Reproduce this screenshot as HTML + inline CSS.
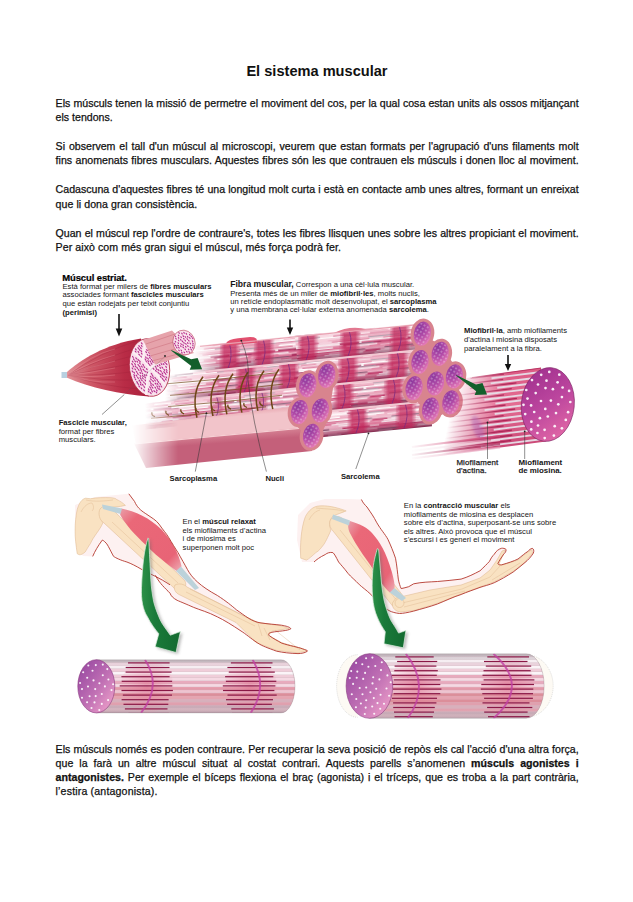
<!DOCTYPE html>
<html><head><meta charset="utf-8">
<style>
html,body{margin:0;padding:0;background:#fff;}
body{width:633px;height:902px;position:relative;overflow:hidden;font-family:"Liberation Sans",sans-serif;color:#111;}
.t{position:absolute;left:246.4px;top:0;font-weight:bold;font-size:14.6px;white-space:nowrap;}
.p{position:absolute;left:55.6px;width:523px;font-size:10.6px;line-height:14.15px;-webkit-text-stroke:0.25px #111;}
.l{display:block;white-space:nowrap;height:14.15px;}
.j{text-align:justify;text-align-last:justify;}
svg{position:absolute;left:0;top:0;}
</style></head><body>
<div class="t" id="title" style="top:62.5px;line-height:16px">El sistema muscular</div>
<div class="p" id="p1" style="top:96.05px"><span class="l j">Els músculs tenen la missió de permetre el moviment del cos, per la qual cosa estan units als ossos mitjançant</span><span class="l">els tendons.</span></div>
<div class="p" id="p2" style="top:139.25px"><span class="l j">Si observem el tall d'un múscul al microscopi, veurem que estan formats per l'agrupació d'uns filaments molt</span><span class="l j">fins anomenats fibres musculars. Aquestes fibres són les que contrauen els músculs i donen lloc al moviment.</span></div>
<div class="p" id="p3" style="top:182.45px"><span class="l j">Cadascuna d'aquestes fibres té una longitud molt curta i està en contacte amb unes altres, formant un enreixat</span><span class="l" style="letter-spacing:0.05px">que li dona gran consistència.</span></div>
<div class="p" id="p4" style="top:226.05px"><span class="l j">Quan el múscul rep l'ordre de contraure's, totes les fibres llisquen unes sobre les altres propiciant el moviment.</span><span class="l" style="letter-spacing:0.066px">Per això com més gran sigui el múscul, més força podrà fer.</span></div>
<div class="p" id="p5" style="top:741.85px"><span class="l j">Els músculs només es poden contraure. Per recuperar la seva posició de repòs els cal l'acció d'una altra força,</span><span class="l j">que la farà un altre múscul situat al costat contrari. Aquests parells s’anomenen <b>músculs agonistes i</b></span><span class="l j"><b>antagonistes.</b> Per exemple el bíceps flexiona el braç (agonista) i el tríceps, que es troba a la part contrària,</span><span class="l" style="letter-spacing:0.16px">l’estira (antagonista).</span></div>
<svg id="ill" width="633" height="902" viewBox="0 0 633 902">
<defs>
<linearGradient id="mgrad" gradientUnits="userSpaceOnUse" x1="64" y1="0" x2="150" y2="0">
<stop offset="0" stop-color="#e49a9e"/><stop offset="0.3" stop-color="#cf5a68"/><stop offset="0.7" stop-color="#b92c46"/><stop offset="1" stop-color="#a8203c"/>
</linearGradient>
<pattern id="dots1" width="3.4" height="3.2" patternUnits="userSpaceOnUse" patternTransform="rotate(35)">
<ellipse cx="1.7" cy="1.6" rx="1.15" ry="0.72" fill="#b82a82"/>
</pattern>
<pattern id="wdots" width="3.7" height="3.7" patternUnits="userSpaceOnUse" patternTransform="rotate(20)">
<circle cx="1.85" cy="1.85" r="0.62" fill="#fff" fill-opacity="0.75"/>
</pattern>
<pattern id="wdots2" width="8" height="8" patternUnits="userSpaceOnUse" patternTransform="rotate(20)">
<circle cx="2" cy="2" r="1.05" fill="#fff" fill-opacity="0.9"/>
<circle cx="6" cy="6" r="1.05" fill="#fff" fill-opacity="0.9"/>
</pattern>
<pattern id="wdots3" width="10" height="10" patternUnits="userSpaceOnUse" patternTransform="rotate(25)">
<circle cx="2.5" cy="2.5" r="1.1" fill="#fff" fill-opacity="0.9"/>
<circle cx="7.5" cy="7.5" r="1.1" fill="#fff" fill-opacity="0.9"/>
</pattern>
<radialGradient id="purp" cx="0.3" cy="0.25" r="0.85">
<stop offset="0" stop-color="#8e3a9e"/><stop offset="0.5" stop-color="#b44ca8"/><stop offset="1" stop-color="#ea80b8"/>
</radialGradient>
<linearGradient id="purpB" x1="0.2" y1="0" x2="0.8" y2="1">
<stop offset="0" stop-color="#a0308e"/><stop offset="0.5" stop-color="#bc469e"/><stop offset="1" stop-color="#e46aa6"/>
</linearGradient>
<linearGradient id="purpC" x1="0.1" y1="0.1" x2="0.9" y2="0.9">
<stop offset="0" stop-color="#9a4aa2"/><stop offset="0.55" stop-color="#c070b4"/><stop offset="1" stop-color="#eb9cc8"/>
</linearGradient>
<linearGradient id="fadeL" gradientUnits="userSpaceOnUse" x1="150" y1="0" x2="218" y2="0">
<stop offset="0" stop-color="#fff" stop-opacity="0"/><stop offset="1" stop-color="#fff" stop-opacity="1"/>
</linearGradient>
<mask id="mfade" maskUnits="userSpaceOnUse" x="0" y="0" width="633" height="902"><rect x="0" y="0" width="633" height="902" fill="url(#fadeL)"/></mask>
<linearGradient id="fadeP" gradientUnits="userSpaceOnUse" x1="132" y1="0" x2="178" y2="0">
<stop offset="0" stop-color="#fff" stop-opacity="0"/><stop offset="1" stop-color="#fff" stop-opacity="1"/>
</linearGradient>
<mask id="mfadeP" maskUnits="userSpaceOnUse" x="0" y="0" width="633" height="902"><rect x="0" y="0" width="633" height="902" fill="url(#fadeP)"/></mask>
<linearGradient id="fadeR" gradientUnits="userSpaceOnUse" x1="440" y1="0" x2="505" y2="0">
<stop offset="0" stop-color="#fff" stop-opacity="0"/><stop offset="1" stop-color="#fff" stop-opacity="1"/>
</linearGradient>
<mask id="mfadeR" maskUnits="userSpaceOnUse" x="0" y="0" width="633" height="902"><rect x="0" y="0" width="633" height="902" fill="url(#fadeR)"/></mask>
<linearGradient id="pkA" gradientUnits="userSpaceOnUse" x1="0" y1="412" x2="2" y2="436">
<stop offset="0" stop-color="#ecacb4"/><stop offset="0.55" stop-color="#e0909c"/><stop offset="1" stop-color="#f2c4ca"/>
</linearGradient>
<linearGradient id="pkB" gradientUnits="userSpaceOnUse" x1="0" y1="434" x2="2" y2="460">
<stop offset="0" stop-color="#f2c0c6"/><stop offset="0.4" stop-color="#e29aa6"/><stop offset="1" stop-color="#c4607a"/>
</linearGradient>
<linearGradient id="grn" x1="0" y1="0" x2="1" y2="1">
<stop offset="0" stop-color="#1f7a3a"/><stop offset="1" stop-color="#0e5a28"/>
</linearGradient>
<linearGradient id="bic" x1="0" y1="0" x2="1" y2="1">
<stop offset="0" stop-color="#e9a0aa"/><stop offset="0.2" stop-color="#ea6878"/><stop offset="0.8" stop-color="#e86476"/><stop offset="1" stop-color="#eeb0b8"/>
</linearGradient>
<linearGradient id="grnC" x1="0" y1="0" x2="1" y2="0"><stop offset="0" stop-color="#2c9048"/><stop offset="0.35" stop-color="#1a7a3a"/><stop offset="1" stop-color="#136a30"/></linearGradient>
<filter id="blur1" x="-20%" y="-20%" width="140%" height="140%"><feGaussianBlur stdDeviation="0.6"/></filter>
<filter id="blur2" x="-20%" y="-20%" width="140%" height="140%"><feGaussianBlur stdDeviation="1.5"/></filter>

<pattern id="streak" width="130" height="23.20" patternUnits="userSpaceOnUse" patternTransform="rotate(-5.7)"><rect width="130" height="23.20" fill="#e0809e"/><rect x="0" y="0.00" width="130" height="1.47" fill="#e88aa8"/><rect x="4.2" y="0.00" width="28.2" height="1.47" fill="#f0b0c4"/><rect x="40.1" y="0.00" width="21.3" height="1.47" fill="#e27a9c"/><rect x="73.2" y="0.00" width="31.4" height="1.47" fill="#8a6a80"/><rect x="112.9" y="0.00" width="17.1" height="1.47" fill="#ffffff"/><rect x="0" y="1.45" width="130" height="1.47" fill="#f4c4d4"/><rect x="4.3" y="1.45" width="18.9" height="1.47" fill="#c84070"/><rect x="36.3" y="1.45" width="37.6" height="1.47" fill="#d45c84"/><rect x="87.8" y="1.45" width="39.1" height="1.47" fill="#d45c84"/><rect x="0" y="2.90" width="130" height="1.47" fill="#ffffff"/><rect x="9.6" y="2.90" width="32.4" height="1.47" fill="#f7d0dc"/><rect x="51.7" y="2.90" width="45.9" height="1.47" fill="#ffffff"/><rect x="101.5" y="2.90" width="28.5" height="1.47" fill="#f7d0dc"/><rect x="0" y="4.35" width="130" height="1.47" fill="#ffffff"/><rect x="4.5" y="4.35" width="32.8" height="1.47" fill="#ffffff"/><rect x="44.1" y="4.35" width="19.1" height="1.47" fill="#a02454"/><rect x="65.7" y="4.35" width="43.4" height="1.47" fill="#c84070"/><rect x="112.0" y="4.35" width="18.0" height="1.47" fill="#a02454"/><rect x="0" y="5.80" width="130" height="1.47" fill="#a02454"/><rect x="7.5" y="5.80" width="39.9" height="1.47" fill="#f4c4d4"/><rect x="61.3" y="5.80" width="16.4" height="1.47" fill="#8a6a80"/><rect x="85.5" y="5.80" width="42.1" height="1.47" fill="#c84070"/><rect x="0" y="7.25" width="130" height="1.47" fill="#e88aa8"/><rect x="8.9" y="7.25" width="27.9" height="1.47" fill="#ffffff"/><rect x="50.3" y="7.25" width="31.0" height="1.47" fill="#ffffff"/><rect x="95.2" y="7.25" width="27.1" height="1.47" fill="#ffffff"/><rect x="0" y="8.70" width="130" height="1.47" fill="#e88aa8"/><rect x="7.2" y="8.70" width="47.8" height="1.47" fill="#e27a9c"/><rect x="57.0" y="8.70" width="16.4" height="1.47" fill="#f4c4d4"/><rect x="84.3" y="8.70" width="21.5" height="1.47" fill="#f4c4d4"/><rect x="111.7" y="8.70" width="18.3" height="1.47" fill="#f7d0dc"/><rect x="0" y="10.15" width="130" height="1.47" fill="#e88aa8"/><rect x="6.3" y="10.15" width="42.3" height="1.47" fill="#ffffff"/><rect x="54.8" y="10.15" width="34.3" height="1.47" fill="#f0b0c4"/><rect x="94.0" y="10.15" width="19.7" height="1.47" fill="#e88aa8"/><rect x="125.1" y="10.15" width="4.9" height="1.47" fill="#a02454"/><rect x="0" y="11.60" width="130" height="1.47" fill="#8a6a80"/><rect x="9.0" y="11.60" width="46.6" height="1.47" fill="#d45c84"/><rect x="68.6" y="11.60" width="19.5" height="1.47" fill="#f4c4d4"/><rect x="90.3" y="11.60" width="25.8" height="1.47" fill="#8a6a80"/><rect x="122.6" y="11.60" width="7.4" height="1.47" fill="#c84070"/><rect x="0" y="13.05" width="130" height="1.47" fill="#f7d0dc"/><rect x="4.4" y="13.05" width="27.9" height="1.47" fill="#e27a9c"/><rect x="34.9" y="13.05" width="23.8" height="1.47" fill="#f0b0c4"/><rect x="68.6" y="13.05" width="15.2" height="1.47" fill="#c84070"/><rect x="87.9" y="13.05" width="16.4" height="1.47" fill="#ffffff"/><rect x="114.0" y="13.05" width="16.0" height="1.47" fill="#e88aa8"/><rect x="0" y="14.50" width="130" height="1.47" fill="#e27a9c"/><rect x="0.5" y="14.50" width="18.7" height="1.47" fill="#a02454"/><rect x="27.5" y="14.50" width="38.8" height="1.47" fill="#ffffff"/><rect x="79.8" y="14.50" width="44.6" height="1.47" fill="#ffffff"/><rect x="0" y="15.95" width="130" height="1.47" fill="#ffffff"/><rect x="6.0" y="15.95" width="28.5" height="1.47" fill="#f4c4d4"/><rect x="47.3" y="15.95" width="30.2" height="1.47" fill="#e88aa8"/><rect x="86.0" y="15.95" width="23.4" height="1.47" fill="#ffffff"/><rect x="115.9" y="15.95" width="14.1" height="1.47" fill="#ffffff"/><rect x="0" y="17.40" width="130" height="1.47" fill="#ffffff"/><rect x="6.4" y="17.40" width="43.0" height="1.47" fill="#f4c4d4"/><rect x="56.4" y="17.40" width="37.2" height="1.47" fill="#e88aa8"/><rect x="97.3" y="17.40" width="17.2" height="1.47" fill="#f7d0dc"/><rect x="118.7" y="17.40" width="11.3" height="1.47" fill="#e88aa8"/><rect x="0" y="18.85" width="130" height="1.47" fill="#f7d0dc"/><rect x="6.6" y="18.85" width="18.3" height="1.47" fill="#8a6a80"/><rect x="38.2" y="18.85" width="27.5" height="1.47" fill="#c84070"/><rect x="75.1" y="18.85" width="20.2" height="1.47" fill="#d45c84"/><rect x="99.7" y="18.85" width="30.3" height="1.47" fill="#ffffff"/><rect x="0" y="20.30" width="130" height="1.47" fill="#8a6a80"/><rect x="8.7" y="20.30" width="40.3" height="1.47" fill="#ffffff"/><rect x="55.7" y="20.30" width="43.4" height="1.47" fill="#d45c84"/><rect x="110.3" y="20.30" width="19.7" height="1.47" fill="#c84070"/><rect x="0" y="21.75" width="130" height="1.47" fill="#f4c4d4"/><rect x="3.1" y="21.75" width="15.4" height="1.47" fill="#d45c84"/><rect x="22.4" y="21.75" width="38.7" height="1.47" fill="#f0b0c4"/><rect x="72.9" y="21.75" width="41.3" height="1.47" fill="#e27a9c"/><rect x="127.6" y="21.75" width="2.4" height="1.47" fill="#f4c4d4"/></pattern>
<linearGradient id="fadeR2" gradientUnits="userSpaceOnUse" x1="408" y1="0" x2="470" y2="0">
<stop offset="0" stop-color="#fff" stop-opacity="0"/><stop offset="1" stop-color="#fff" stop-opacity="1"/>
</linearGradient>
<mask id="mfadeR2" maskUnits="userSpaceOnUse" x="0" y="0" width="633" height="902"><rect x="0" y="0" width="633" height="902" fill="url(#fadeR2)"/></mask>
<linearGradient id="tf0" gradientUnits="userSpaceOnUse" x1="192" y1="0" x2="228" y2="0"><stop offset="0" stop-color="#fff" stop-opacity="0"/><stop offset="1" stop-color="#fff" stop-opacity="1"/></linearGradient><mask id="mtf0" maskUnits="userSpaceOnUse" x="0" y="0" width="633" height="902"><rect x="0" y="0" width="633" height="902" fill="url(#tf0)"/></mask>
<linearGradient id="tf1" gradientUnits="userSpaceOnUse" x1="165" y1="0" x2="212" y2="0"><stop offset="0" stop-color="#fff" stop-opacity="0"/><stop offset="1" stop-color="#fff" stop-opacity="1"/></linearGradient><mask id="mtf1" maskUnits="userSpaceOnUse" x="0" y="0" width="633" height="902"><rect x="0" y="0" width="633" height="902" fill="url(#tf1)"/></mask>
<linearGradient id="tf2" gradientUnits="userSpaceOnUse" x1="145" y1="0" x2="195" y2="0"><stop offset="0" stop-color="#fff" stop-opacity="0"/><stop offset="1" stop-color="#fff" stop-opacity="1"/></linearGradient><mask id="mtf2" maskUnits="userSpaceOnUse" x="0" y="0" width="633" height="902"><rect x="0" y="0" width="633" height="902" fill="url(#tf2)"/></mask>
<linearGradient id="tf3" gradientUnits="userSpaceOnUse" x1="0" y1="0" x2="1" y2="0"><stop offset="0" stop-color="#fff" stop-opacity="0"/><stop offset="1" stop-color="#fff" stop-opacity="1"/></linearGradient><mask id="mtf3" maskUnits="userSpaceOnUse" x="0" y="0" width="633" height="902"><rect x="0" y="0" width="633" height="902" fill="url(#tf3)"/></mask>
<linearGradient id="tsh0" gradientUnits="userSpaceOnUse" x1="300" y1="335.4" x2="302.6" y2="361.9"><stop offset="0" stop-color="#fbe4ea" stop-opacity="0.55"/><stop offset="0.35" stop-color="#fff" stop-opacity="0.35"/><stop offset="0.65" stop-color="#b03060" stop-opacity="0.15"/><stop offset="1" stop-color="#5a1838" stop-opacity="0.7"/></linearGradient>
<linearGradient id="tsh1" gradientUnits="userSpaceOnUse" x1="300" y1="361.9" x2="302.6" y2="387.9"><stop offset="0" stop-color="#fbe4ea" stop-opacity="0.55"/><stop offset="0.35" stop-color="#fff" stop-opacity="0.35"/><stop offset="0.65" stop-color="#b03060" stop-opacity="0.15"/><stop offset="1" stop-color="#5a1838" stop-opacity="0.7"/></linearGradient>
<linearGradient id="tsh2" gradientUnits="userSpaceOnUse" x1="300" y1="387.9" x2="302.6" y2="413.9"><stop offset="0" stop-color="#fbe4ea" stop-opacity="0.55"/><stop offset="0.35" stop-color="#fff" stop-opacity="0.35"/><stop offset="0.65" stop-color="#b03060" stop-opacity="0.15"/><stop offset="1" stop-color="#5a1838" stop-opacity="0.7"/></linearGradient>
<linearGradient id="tsh3" gradientUnits="userSpaceOnUse" x1="300" y1="413.9" x2="302.6" y2="439.4"><stop offset="0" stop-color="#fbe4ea" stop-opacity="0.55"/><stop offset="0.35" stop-color="#fff" stop-opacity="0.35"/><stop offset="0.65" stop-color="#b03060" stop-opacity="0.15"/><stop offset="1" stop-color="#5a1838" stop-opacity="0.7"/></linearGradient>
<linearGradient id="bd2201" gradientUnits="userSpaceOnUse" x1="218.5" y1="0" x2="241" y2="0"><stop offset="0" stop-color="#c02458" stop-opacity="0"/><stop offset="0.25" stop-color="#c02458" stop-opacity="0.72"/><stop offset="0.75" stop-color="#c02458" stop-opacity="0.72"/><stop offset="1" stop-color="#c02458" stop-opacity="0"/></linearGradient>
<linearGradient id="bd2541" gradientUnits="userSpaceOnUse" x1="252.5" y1="0" x2="275" y2="0"><stop offset="0" stop-color="#c02458" stop-opacity="0"/><stop offset="0.25" stop-color="#c02458" stop-opacity="0.72"/><stop offset="0.75" stop-color="#c02458" stop-opacity="0.72"/><stop offset="1" stop-color="#c02458" stop-opacity="0"/></linearGradient>
<linearGradient id="bd2981" gradientUnits="userSpaceOnUse" x1="296.5" y1="0" x2="319" y2="0"><stop offset="0" stop-color="#c02458" stop-opacity="0"/><stop offset="0.25" stop-color="#c02458" stop-opacity="0.72"/><stop offset="0.75" stop-color="#c02458" stop-opacity="0.72"/><stop offset="1" stop-color="#c02458" stop-opacity="0"/></linearGradient>
<linearGradient id="bd3401" gradientUnits="userSpaceOnUse" x1="338.5" y1="0" x2="361" y2="0"><stop offset="0" stop-color="#c02458" stop-opacity="0"/><stop offset="0.25" stop-color="#c02458" stop-opacity="0.72"/><stop offset="0.75" stop-color="#c02458" stop-opacity="0.72"/><stop offset="1" stop-color="#c02458" stop-opacity="0"/></linearGradient>
<linearGradient id="bd3901" gradientUnits="userSpaceOnUse" x1="388.5" y1="0" x2="411" y2="0"><stop offset="0" stop-color="#c02458" stop-opacity="0"/><stop offset="0.25" stop-color="#c02458" stop-opacity="0.72"/><stop offset="0.75" stop-color="#c02458" stop-opacity="0.72"/><stop offset="1" stop-color="#c02458" stop-opacity="0"/></linearGradient>
<linearGradient id="bd23627" gradientUnits="userSpaceOnUse" x1="234.5" y1="0" x2="257" y2="0"><stop offset="0" stop-color="#c02458" stop-opacity="0"/><stop offset="0.25" stop-color="#c02458" stop-opacity="0.72"/><stop offset="0.75" stop-color="#c02458" stop-opacity="0.72"/><stop offset="1" stop-color="#c02458" stop-opacity="0"/></linearGradient>
<linearGradient id="bd27927" gradientUnits="userSpaceOnUse" x1="277.5" y1="0" x2="300" y2="0"><stop offset="0" stop-color="#c02458" stop-opacity="0"/><stop offset="0.25" stop-color="#c02458" stop-opacity="0.72"/><stop offset="0.75" stop-color="#c02458" stop-opacity="0.72"/><stop offset="1" stop-color="#c02458" stop-opacity="0"/></linearGradient>
<linearGradient id="bd33827" gradientUnits="userSpaceOnUse" x1="336.5" y1="0" x2="359" y2="0"><stop offset="0" stop-color="#c02458" stop-opacity="0"/><stop offset="0.25" stop-color="#c02458" stop-opacity="0.72"/><stop offset="0.75" stop-color="#c02458" stop-opacity="0.72"/><stop offset="1" stop-color="#c02458" stop-opacity="0"/></linearGradient>
<linearGradient id="bd38827" gradientUnits="userSpaceOnUse" x1="386.5" y1="0" x2="409" y2="0"><stop offset="0" stop-color="#c02458" stop-opacity="0"/><stop offset="0.25" stop-color="#c02458" stop-opacity="0.72"/><stop offset="0.75" stop-color="#c02458" stop-opacity="0.72"/><stop offset="1" stop-color="#c02458" stop-opacity="0"/></linearGradient>
<linearGradient id="bd33453" gradientUnits="userSpaceOnUse" x1="332.5" y1="0" x2="355" y2="0"><stop offset="0" stop-color="#c02458" stop-opacity="0"/><stop offset="0.25" stop-color="#c02458" stop-opacity="0.72"/><stop offset="0.75" stop-color="#c02458" stop-opacity="0.72"/><stop offset="1" stop-color="#c02458" stop-opacity="0"/></linearGradient>
<linearGradient id="bd38453" gradientUnits="userSpaceOnUse" x1="382.5" y1="0" x2="405" y2="0"><stop offset="0" stop-color="#c02458" stop-opacity="0"/><stop offset="0.25" stop-color="#c02458" stop-opacity="0.72"/><stop offset="0.75" stop-color="#c02458" stop-opacity="0.72"/><stop offset="1" stop-color="#c02458" stop-opacity="0"/></linearGradient>
<linearGradient id="bd34879" gradientUnits="userSpaceOnUse" x1="346.5" y1="0" x2="369" y2="0"><stop offset="0" stop-color="#c02458" stop-opacity="0"/><stop offset="0.25" stop-color="#c02458" stop-opacity="0.72"/><stop offset="0.75" stop-color="#c02458" stop-opacity="0.72"/><stop offset="1" stop-color="#c02458" stop-opacity="0"/></linearGradient>
<linearGradient id="bd39679" gradientUnits="userSpaceOnUse" x1="394.5" y1="0" x2="417" y2="0"><stop offset="0" stop-color="#c02458" stop-opacity="0"/><stop offset="0.25" stop-color="#c02458" stop-opacity="0.72"/><stop offset="0.75" stop-color="#c02458" stop-opacity="0.72"/><stop offset="1" stop-color="#c02458" stop-opacity="0"/></linearGradient>
<linearGradient id="bd21153" gradientUnits="userSpaceOnUse" x1="209.5" y1="0" x2="224" y2="0"><stop offset="0" stop-color="#b52a5c" stop-opacity="0"/><stop offset="0.25" stop-color="#b52a5c" stop-opacity="0.35"/><stop offset="0.75" stop-color="#b52a5c" stop-opacity="0.35"/><stop offset="1" stop-color="#b52a5c" stop-opacity="0"/></linearGradient>
<linearGradient id="bd25653" gradientUnits="userSpaceOnUse" x1="254.5" y1="0" x2="269" y2="0"><stop offset="0" stop-color="#b52a5c" stop-opacity="0"/><stop offset="0.25" stop-color="#b52a5c" stop-opacity="0.35"/><stop offset="0.75" stop-color="#b52a5c" stop-opacity="0.35"/><stop offset="1" stop-color="#b52a5c" stop-opacity="0"/></linearGradient>
<linearGradient id="myoF" gradientUnits="userSpaceOnUse" x1="452" y1="404" x2="500" y2="414"><stop offset="0" stop-color="#fff" stop-opacity="0"/><stop offset="1" stop-color="#fff" stop-opacity="1"/></linearGradient><mask id="mmyo" maskUnits="userSpaceOnUse" x="0" y="0" width="633" height="902"><rect x="0" y="0" width="633" height="902" fill="url(#myoF)"/></mask>
<linearGradient id="myoB" gradientUnits="userSpaceOnUse" x1="540" y1="368" x2="540" y2="442"><stop offset="0" stop-color="#dc5a84"/><stop offset="0.5" stop-color="#e46c92"/><stop offset="1" stop-color="#cc4a78"/></linearGradient>
<clipPath id="clipL"><path d="M96.3,659.6999999999999 L281,659.6999999999999 A14,26.6 0 0 1 281,712.9 L96.3,712.9 Z"/></clipPath>
<linearGradient id="shL" x1="0" y1="0" x2="0" y2="1"><stop offset="0" stop-color="#806070" stop-opacity="0.2"/><stop offset="0.12" stop-color="#fff" stop-opacity="0"/><stop offset="0.85" stop-color="#fff" stop-opacity="0"/><stop offset="1" stop-color="#806070" stop-opacity="0.2"/></linearGradient>
<radialGradient id="bgL120" cx="0.5" cy="0.5" r="0.5"><stop offset="0" stop-color="#e07090" stop-opacity="0.55"/><stop offset="1" stop-color="#e890a8" stop-opacity="0.1"/></radialGradient>
<radialGradient id="bgL224" cx="0.5" cy="0.5" r="0.5"><stop offset="0" stop-color="#e07090" stop-opacity="0.55"/><stop offset="1" stop-color="#e890a8" stop-opacity="0.1"/></radialGradient>
<clipPath id="clipR"><path d="M369.4,653.7 L526.2,653.7 A18,32.3 0 0 1 526.2,718.3 L369.4,718.3 Z"/></clipPath>
<linearGradient id="shR" x1="0" y1="0" x2="0" y2="1"><stop offset="0" stop-color="#806070" stop-opacity="0.2"/><stop offset="0.12" stop-color="#fff" stop-opacity="0"/><stop offset="0.85" stop-color="#fff" stop-opacity="0"/><stop offset="1" stop-color="#806070" stop-opacity="0.2"/></linearGradient>
<radialGradient id="bgR390" cx="0.5" cy="0.5" r="0.5"><stop offset="0" stop-color="#e07090" stop-opacity="0.55"/><stop offset="1" stop-color="#e890a8" stop-opacity="0.1"/></radialGradient>
<radialGradient id="bgR481" cx="0.5" cy="0.5" r="0.5"><stop offset="0" stop-color="#e07090" stop-opacity="0.55"/><stop offset="1" stop-color="#e890a8" stop-opacity="0.1"/></radialGradient></defs>
<g id="bundle">
<g>
<path d="M188,346.6 L418,323.6 L418,350.1 L188,373.1 Z" fill="url(#streak)" mask="url(#mtf0)"/>
<path d="M160,375.9 L420,349.9 L420,375.9 L160,401.9 Z" fill="url(#streak)" mask="url(#mtf1)"/>
<path d="M140,403.9 L418,376.1 L418,402.1 L140,429.9 Z" fill="url(#streak)" mask="url(#mtf2)"/>
<path d="M318,412.1 L432,400.7 L432,426.2 L318,437.6 Z" fill="url(#streak)" mask="url(#mtf3)"/>
<path d="M188,346.6 L418,323.6 L418,350.1 L188,373.1 Z" fill="url(#tsh0)" mask="url(#mtf0)"/>
<path d="M160,375.9 L420,349.9 L420,375.9 L160,401.9 Z" fill="url(#tsh1)" mask="url(#mtf1)"/>
<path d="M140,403.9 L418,376.1 L418,402.1 L140,429.9 Z" fill="url(#tsh2)" mask="url(#mtf2)"/>
<path d="M318,412.1 L432,400.7 L432,426.2 L318,437.6 Z" fill="url(#tsh3)" mask="url(#mtf3)"/>
</g>
<g mask="url(#mfade)"><path d="M220.0,344.4 L241.0,342.3 L239.5,367.3 L218.5,369.4 Z" fill="url(#bd2201)"/><path d="M229.4,343.5 Q233.4,356.0 227.9,368.5" stroke="#7a2a80" stroke-width="0.9" fill="none" stroke-opacity="0.85"/><path d="M254.0,341.0 L275.0,338.9 L273.5,363.9 L252.5,366.0 Z" fill="url(#bd2541)"/><path d="M263.4,340.1 Q267.4,352.6 261.9,365.1" stroke="#7a2a80" stroke-width="0.9" fill="none" stroke-opacity="0.85"/><path d="M298.0,336.6 L319.0,334.5 L317.5,359.5 L296.5,361.6 Z" fill="url(#bd2981)"/><path d="M307.4,335.7 Q311.4,348.2 305.9,360.7" stroke="#7a2a80" stroke-width="0.9" fill="none" stroke-opacity="0.85"/><path d="M340.0,332.4 L361.0,330.3 L359.5,355.3 L338.5,357.4 Z" fill="url(#bd3401)"/><path d="M349.4,331.5 Q353.4,344.0 347.9,356.5" stroke="#7a2a80" stroke-width="0.9" fill="none" stroke-opacity="0.85"/><path d="M390.0,327.4 L411.0,325.3 L409.5,350.3 L388.5,352.4 Z" fill="url(#bd3901)"/><path d="M399.4,326.5 Q403.4,339.0 397.9,351.5" stroke="#7a2a80" stroke-width="0.9" fill="none" stroke-opacity="0.85"/><path d="M236.0,369.3 L257.0,367.2 L255.5,391.7 L234.5,393.8 Z" fill="url(#bd23627)"/><path d="M245.4,368.4 Q249.4,380.6 243.9,392.9" stroke="#7a2a80" stroke-width="0.9" fill="none" stroke-opacity="0.85"/><path d="M279.0,365.0 L300.0,362.9 L298.5,387.4 L277.5,389.5 Z" fill="url(#bd27927)"/><path d="M288.4,364.1 Q292.4,376.3 286.9,388.6" stroke="#7a2a80" stroke-width="0.9" fill="none" stroke-opacity="0.85"/><path d="M338.0,359.1 L359.0,357.0 L357.5,381.5 L336.5,383.6 Z" fill="url(#bd33827)"/><path d="M347.4,358.2 Q351.4,370.4 345.9,382.7" stroke="#7a2a80" stroke-width="0.9" fill="none" stroke-opacity="0.85"/><path d="M388.0,354.1 L409.0,352.0 L407.5,376.5 L386.5,378.6 Z" fill="url(#bd38827)"/><path d="M397.4,353.2 Q401.4,365.4 395.9,377.7" stroke="#7a2a80" stroke-width="0.9" fill="none" stroke-opacity="0.85"/><path d="M334.0,385.5 L355.0,383.4 L353.5,407.9 L332.5,410.0 Z" fill="url(#bd33453)"/><path d="M343.4,384.6 Q347.4,396.8 341.9,409.1" stroke="#7a2a80" stroke-width="0.9" fill="none" stroke-opacity="0.85"/><path d="M384.0,380.5 L405.0,378.4 L403.5,402.9 L382.5,405.0 Z" fill="url(#bd38453)"/><path d="M393.4,379.6 Q397.4,391.8 391.9,404.1" stroke="#7a2a80" stroke-width="0.9" fill="none" stroke-opacity="0.85"/><path d="M348.0,410.1 L369.0,408.0 L367.5,432.0 L346.5,434.1 Z" fill="url(#bd34879)"/><path d="M357.4,409.2 Q361.4,421.2 355.9,433.2" stroke="#7a2a80" stroke-width="0.9" fill="none" stroke-opacity="0.85"/><path d="M396.0,405.3 L417.0,403.2 L415.5,427.2 L394.5,429.3 Z" fill="url(#bd39679)"/><path d="M405.4,404.4 Q409.4,416.4 403.9,428.4" stroke="#7a2a80" stroke-width="0.9" fill="none" stroke-opacity="0.85"/><path d="M211.0,397.8 L224.0,396.5 L222.5,418.0 L209.5,419.3 Z" fill="url(#bd21153)"/><path d="M216.8,397.2 Q220.8,408.0 215.3,418.7" stroke="#7a2a80" stroke-width="0.9" fill="none" stroke-opacity="0.85"/><path d="M256.0,393.3 L269.0,392.0 L267.5,413.5 L254.5,414.8 Z" fill="url(#bd25653)"/><path d="M261.9,392.7 Q265.9,403.5 260.4,414.2" stroke="#7a2a80" stroke-width="0.9" fill="none" stroke-opacity="0.85"/><path d="M205,371.4 L420,349.9" stroke="#f2c8d2" stroke-width="2"/><path d="M176,400.3 L420,375.9" stroke="#f2c8d2" stroke-width="2"/><path d="M320,411.9 L420,401.9" stroke="#f2c8d2" stroke-width="2"/></g>
<path d="M226,343.3 Q228,339.4 238,338.2 L250,337.0 Q257,337.1 257,340.2 L257,342.7 L226,345.8 Z" fill="#e2506f"/>
<path d="M334,333.0 Q350,324.9 368,329.6 Z" fill="#e27890"/>
<path d="M200,346.4 L418,324.6" stroke="#e8a0b0" stroke-width="1.2" mask="url(#mfade)"/>
<g mask="url(#mfadeP)"><path d="M203,376.8 Q191,392.8 197,417.8" stroke="#6e4616" stroke-width="1.5" fill="none"/><path d="M219,375.2 Q207,391.2 213,416.2" stroke="#6e4616" stroke-width="1.5" fill="none"/><path d="M233,373.8 Q221,389.8 227,414.8" stroke="#6e4616" stroke-width="1.5" fill="none"/><path d="M248,372.3 Q236,388.3 242,413.3" stroke="#6e4616" stroke-width="1.5" fill="none"/><path d="M264,370.7 Q252,386.7 258,411.7" stroke="#6e4616" stroke-width="1.5" fill="none"/><path d="M279,369.2 Q267,385.2 273,410.2" stroke="#6e4616" stroke-width="1.5" fill="none"/><path d="M166,383.8 Q221,379.8 276,372.8" stroke="#6e4616" stroke-width="0.9" stroke-opacity="0.75" fill="none"/><path d="M170,395.4 Q226,391.3 283,384.1" stroke="#6e4616" stroke-width="0.9" stroke-opacity="0.75" fill="none"/><path d="M168,406.6 Q225,402.4 282,395.2" stroke="#6e4616" stroke-width="0.9" stroke-opacity="0.75" fill="none"/><path d="M151,418.3 Q209,414.0 266,406.8" stroke="#6e4616" stroke-width="0.9" stroke-opacity="0.75" fill="none"/><path d="M152,412.2 Q151,415.2 155,416.7" stroke="#6e4616" stroke-width="1.3" fill="none"/><path d="M166,410.8 Q165,413.8 169,415.3" stroke="#6e4616" stroke-width="1.3" fill="none"/><path d="M181,409.3 Q180,412.3 184,413.8" stroke="#6e4616" stroke-width="1.3" fill="none"/><path d="M196,407.8 Q195,410.8 199,412.3" stroke="#6e4616" stroke-width="1.3" fill="none"/><path d="M212,406.2 Q211,409.2 215,410.7" stroke="#6e4616" stroke-width="1.3" fill="none"/><path d="M228,404.6 Q227,407.6 231,409.1" stroke="#6e4616" stroke-width="1.3" fill="none"/><path d="M244,403.0 Q243,406.0 247,407.5" stroke="#6e4616" stroke-width="1.3" fill="none"/><path d="M260,401.4 Q259,404.4 263,405.9" stroke="#6e4616" stroke-width="1.3" fill="none"/></g>
<g mask="url(#mfadeP)">
<path d="M132,425.5 L300,406 L304,428 L136,444.5 Z" fill="url(#pkA)"/>
<path d="M134,443.5 L304,427.5 L312,451 L146,468 Z" fill="url(#pkB)"/>
<path d="M134,443.8 L304,428" stroke="#f6d0d4" stroke-width="1.2"/>
</g>
<g fill="#d8848e">
<ellipse cx="326.8" cy="375.8" rx="11.8" ry="15.2" transform="rotate(10 326.8 375.8)"/>
<ellipse cx="307.8" cy="385.3" rx="11.8" ry="15.2" transform="rotate(10 307.8 385.3)"/>
<ellipse cx="320.4" cy="410.5" rx="11.8" ry="15.2" transform="rotate(10 320.4 410.5)"/>
<ellipse cx="299.6" cy="412.1" rx="11.8" ry="15.2" transform="rotate(10 299.6 412.1)"/>
<ellipse cx="311.6" cy="435.8" rx="11.8" ry="15.2" transform="rotate(10 311.6 435.8)"/>
<ellipse cx="422.4" cy="333.7" rx="11.8" ry="15.2" transform="rotate(10 422.4 333.7)"/>
<ellipse cx="440.2" cy="353.8" rx="11.8" ry="15.2" transform="rotate(10 440.2 353.8)"/>
<ellipse cx="420" cy="362" rx="11.8" ry="15.2" transform="rotate(10 420 362)"/>
<ellipse cx="454.4" cy="376.4" rx="11.8" ry="15.2" transform="rotate(10 454.4 376.4)"/>
<ellipse cx="435.5" cy="383.5" rx="11.8" ry="15.2" transform="rotate(10 435.5 383.5)"/>
<ellipse cx="414.1" cy="388.2" rx="11.8" ry="15.2" transform="rotate(10 414.1 388.2)"/>
<ellipse cx="450.9" cy="402.4" rx="11.8" ry="15.2" transform="rotate(10 450.9 402.4)"/>
<ellipse cx="430.7" cy="409.5" rx="11.8" ry="15.2" transform="rotate(10 430.7 409.5)"/>
</g>
<path d="M298,400 L318,372 L334,382 L328,420 L315,447 L296,425 Z" fill="#d8848e"/>
<path d="M416,330 L440,345 L458,370 L460,405 L432,420 L412,395 Z" fill="#d8848e"/>
<ellipse cx="326.8" cy="375.8" rx="8.6" ry="12.2" transform="rotate(10 326.8 375.8)" fill="url(#purp)"/>
<ellipse cx="326.8" cy="375.8" rx="7.8" ry="11.4" transform="rotate(10 326.8 375.8)" fill="url(#wdots)"/>
<ellipse cx="307.8" cy="385.3" rx="8.6" ry="12.2" transform="rotate(10 307.8 385.3)" fill="url(#purp)"/>
<ellipse cx="307.8" cy="385.3" rx="7.8" ry="11.4" transform="rotate(10 307.8 385.3)" fill="url(#wdots)"/>
<ellipse cx="320.4" cy="410.5" rx="8.6" ry="12.2" transform="rotate(10 320.4 410.5)" fill="url(#purp)"/>
<ellipse cx="320.4" cy="410.5" rx="7.8" ry="11.4" transform="rotate(10 320.4 410.5)" fill="url(#wdots)"/>
<ellipse cx="299.6" cy="412.1" rx="8.6" ry="12.2" transform="rotate(10 299.6 412.1)" fill="url(#purp)"/>
<ellipse cx="299.6" cy="412.1" rx="7.8" ry="11.4" transform="rotate(10 299.6 412.1)" fill="url(#wdots)"/>
<ellipse cx="311.6" cy="435.8" rx="8.6" ry="12.2" transform="rotate(10 311.6 435.8)" fill="url(#purp)"/>
<ellipse cx="311.6" cy="435.8" rx="7.8" ry="11.4" transform="rotate(10 311.6 435.8)" fill="url(#wdots)"/>
<ellipse cx="422.4" cy="333.7" rx="8.6" ry="12.2" transform="rotate(10 422.4 333.7)" fill="url(#purp)"/>
<ellipse cx="422.4" cy="333.7" rx="7.8" ry="11.4" transform="rotate(10 422.4 333.7)" fill="url(#wdots)"/>
<ellipse cx="440.2" cy="353.8" rx="8.6" ry="12.2" transform="rotate(10 440.2 353.8)" fill="url(#purp)"/>
<ellipse cx="440.2" cy="353.8" rx="7.8" ry="11.4" transform="rotate(10 440.2 353.8)" fill="url(#wdots)"/>
<ellipse cx="420" cy="362" rx="8.6" ry="12.2" transform="rotate(10 420 362)" fill="url(#purp)"/>
<ellipse cx="420" cy="362" rx="7.8" ry="11.4" transform="rotate(10 420 362)" fill="url(#wdots)"/>
<ellipse cx="454.4" cy="376.4" rx="8.6" ry="12.2" transform="rotate(10 454.4 376.4)" fill="url(#purp)"/>
<ellipse cx="454.4" cy="376.4" rx="7.8" ry="11.4" transform="rotate(10 454.4 376.4)" fill="url(#wdots)"/>
<ellipse cx="435.5" cy="383.5" rx="8.6" ry="12.2" transform="rotate(10 435.5 383.5)" fill="url(#purp)"/>
<ellipse cx="435.5" cy="383.5" rx="7.8" ry="11.4" transform="rotate(10 435.5 383.5)" fill="url(#wdots)"/>
<ellipse cx="414.1" cy="388.2" rx="8.6" ry="12.2" transform="rotate(10 414.1 388.2)" fill="url(#purp)"/>
<ellipse cx="414.1" cy="388.2" rx="7.8" ry="11.4" transform="rotate(10 414.1 388.2)" fill="url(#wdots)"/>
<ellipse cx="450.9" cy="402.4" rx="8.6" ry="12.2" transform="rotate(10 450.9 402.4)" fill="url(#purp)"/>
<ellipse cx="450.9" cy="402.4" rx="7.8" ry="11.4" transform="rotate(10 450.9 402.4)" fill="url(#wdots)"/>
<ellipse cx="430.7" cy="409.5" rx="8.6" ry="12.2" transform="rotate(10 430.7 409.5)" fill="url(#purp)"/>
<ellipse cx="430.7" cy="409.5" rx="7.8" ry="11.4" transform="rotate(10 430.7 409.5)" fill="url(#wdots)"/>
</g>
<g id="myo">
<path d="M466,378 L541,367.8 L546,441.5 L418,458 Z" fill="url(#myoB)" mask="url(#mmyo)"/>
<path d="M470.5,378.3 L503.9,374.1" stroke="#a51f50" stroke-width="1.3" stroke-opacity="0.85" mask="url(#mmyo)"/>
<path d="M491.5,378.2 L541,372.0" stroke="#e6dee8" stroke-width="1.9" stroke-opacity="0.95"/>
<path d="M466.0,384.0 L503.2,379.4" stroke="#a51f50" stroke-width="1.3" stroke-opacity="0.85" mask="url(#mmyo)"/>
<path d="M490.7,383.4 L541,377.2" stroke="#e6dee8" stroke-width="1.9" stroke-opacity="0.95"/>
<path d="M469.9,388.7 L516.4,382.9" stroke="#a51f50" stroke-width="1.3" stroke-opacity="0.85" mask="url(#mmyo)"/>
<path d="M497.2,387.8 L541,382.3" stroke="#e6dee8" stroke-width="1.9" stroke-opacity="0.95"/>
<path d="M459.2,395.2 L511.7,388.7" stroke="#a51f50" stroke-width="1.3" stroke-opacity="0.85" mask="url(#mmyo)"/>
<path d="M486.5,394.3 L541,387.5" stroke="#e6dee8" stroke-width="1.9" stroke-opacity="0.95"/>
<path d="M455.0,401.0 L503.9,394.8" stroke="#a51f50" stroke-width="1.3" stroke-opacity="0.85" mask="url(#mmyo)"/>
<path d="M484.4,399.8 L541,392.7" stroke="#e6dee8" stroke-width="1.9" stroke-opacity="0.95"/>
<path d="M458.8,405.7 L516.9,398.4" stroke="#a51f50" stroke-width="1.3" stroke-opacity="0.85" mask="url(#mmyo)"/>
<path d="M495.4,403.6 L541,397.9" stroke="#e6dee8" stroke-width="1.9" stroke-opacity="0.95"/>
<path d="M453.9,411.5 L505.5,405.0" stroke="#a51f50" stroke-width="1.3" stroke-opacity="0.85" mask="url(#mmyo)"/>
<path d="M484.6,410.1 L541,403.1" stroke="#e6dee8" stroke-width="1.9" stroke-opacity="0.95"/>
<path d="M448.4,417.3 L515.2,409.0" stroke="#a51f50" stroke-width="1.3" stroke-opacity="0.85" mask="url(#mmyo)"/>
<path d="M494.7,414.0 L541,408.2" stroke="#e6dee8" stroke-width="1.9" stroke-opacity="0.95"/>
<path d="M447.2,422.6 L503.6,415.6" stroke="#a51f50" stroke-width="1.3" stroke-opacity="0.85" mask="url(#mmyo)"/>
<path d="M488.8,419.9 L541,413.4" stroke="#e6dee8" stroke-width="1.9" stroke-opacity="0.95"/>
<path d="M441.4,428.5 L511.1,419.8" stroke="#a51f50" stroke-width="1.3" stroke-opacity="0.85" mask="url(#mmyo)"/>
<path d="M479.4,426.3 L541,418.6" stroke="#e6dee8" stroke-width="1.9" stroke-opacity="0.95"/>
<path d="M435.7,434.4 L503.6,425.9" stroke="#a51f50" stroke-width="1.3" stroke-opacity="0.85" mask="url(#mmyo)"/>
<path d="M493.7,429.7 L541,423.8" stroke="#e6dee8" stroke-width="1.9" stroke-opacity="0.95"/>
<path d="M435.9,439.6 L511.9,430.1" stroke="#a51f50" stroke-width="1.3" stroke-opacity="0.85" mask="url(#mmyo)"/>
<path d="M480.1,436.6 L541,429.0" stroke="#e6dee8" stroke-width="1.9" stroke-opacity="0.95"/>
<path d="M432.7,445.2 L512.3,435.2" stroke="#a51f50" stroke-width="1.3" stroke-opacity="0.85" mask="url(#mmyo)"/>
<path d="M490.9,440.4 L541,434.1" stroke="#e6dee8" stroke-width="1.9" stroke-opacity="0.95"/>
<path d="M428.3,450.9 L511.2,440.5" stroke="#a51f50" stroke-width="1.3" stroke-opacity="0.85" mask="url(#mmyo)"/>
<path d="M480.7,446.8 L541,439.3" stroke="#e6dee8" stroke-width="1.9" stroke-opacity="0.95"/>
<path d="M472,377.5 L541,368" stroke="#b02858" stroke-width="1" stroke-opacity="0.8" mask="url(#mmyo)"/>
<ellipse cx="478" cy="428" rx="5" ry="13" transform="rotate(-20 478 428)" fill="#9a50b0" opacity="0.35" filter="url(#blur2)"/>
<path d="M412,447 L500,436.0" stroke="#d04a78" stroke-width="1.8" stroke-opacity="0.7" mask="url(#mfadeR2)"/>
<path d="M412,451 L500,440.0" stroke="#f2dae4" stroke-width="1.8" stroke-opacity="0.7" mask="url(#mfadeR2)"/>
<path d="M412,455 L500,444.0" stroke="#a82656" stroke-width="1.8" stroke-opacity="0.7" mask="url(#mfadeR2)"/>
<path d="M412,458.5 L500,447.5" stroke="#e8a8c0" stroke-width="1.8" stroke-opacity="0.7" mask="url(#mfadeR2)"/>
<ellipse cx="547.8" cy="404.5" rx="26.5" ry="37" transform="rotate(6 547.8 404.5)" fill="url(#purpB)" stroke="#7a2060" stroke-width="0.6"/>
<g fill="#fff" fill-opacity="0.9"><circle cx="545.3" cy="408.9" r="1.35"/><circle cx="570.3" cy="402.0" r="1.35"/><circle cx="531.1" cy="405.4" r="1.35"/><circle cx="554.7" cy="426.2" r="1.35"/><circle cx="526.3" cy="390.0" r="1.35"/><circle cx="556.0" cy="413.1" r="1.35"/><circle cx="549.3" cy="371.9" r="1.35"/><circle cx="544.6" cy="429.8" r="1.35"/><circle cx="547.8" cy="416.5" r="1.35"/><circle cx="545.5" cy="388.1" r="1.35"/><circle cx="565.8" cy="419.9" r="1.35"/><circle cx="538.0" cy="384.5" r="1.35"/><circle cx="561.9" cy="397.1" r="1.35"/><circle cx="525.2" cy="414.1" r="1.35"/><circle cx="562.6" cy="387.5" r="1.35"/><circle cx="550.9" cy="400.6" r="1.35"/><circle cx="531.4" cy="421.7" r="1.35"/><circle cx="527.5" cy="398.6" r="1.35"/><circle cx="537.4" cy="433.0" r="1.35"/><circle cx="534.2" cy="412.0" r="1.35"/><circle cx="541.0" cy="401.0" r="1.35"/><circle cx="568.1" cy="412.2" r="1.35"/><circle cx="552.9" cy="389.2" r="1.35"/><circle cx="539.9" cy="418.2" r="1.35"/><circle cx="558.3" cy="404.3" r="1.35"/><circle cx="553.9" cy="435.6" r="1.35"/><circle cx="532.0" cy="380.1" r="1.35"/><circle cx="557.6" cy="382.3" r="1.35"/><circle cx="546.5" cy="380.7" r="1.35"/><circle cx="535.7" cy="393.1" r="1.35"/><circle cx="569.1" cy="390.9" r="1.35"/><circle cx="541.2" cy="374.8" r="1.35"/><circle cx="559.3" cy="374.7" r="1.35"/><circle cx="561.9" cy="428.3" r="1.35"/><circle cx="544.7" cy="438.1" r="1.35"/><circle cx="523.5" cy="404.8" r="1.35"/><circle cx="538.0" cy="425.5" r="1.35"/><circle cx="531.2" cy="429.4" r="1.35"/></g>
</g>
<g id="muscle">
<path d="M66.5,372.5 C80,360 105,344 141,338.5 L149,396.5 C120,394 90,388 66.5,377.5 Z" fill="url(#mgrad)"/>
<g stroke="#9a1c36" stroke-width="0.5" stroke-opacity="0.55" fill="none">
<path d="M68,375 Q100,352 140,340"/>
<path d="M68,375 Q100,359 140,347"/>
<path d="M68,375 Q100,364 140,354"/>
<path d="M68,375 Q100,370 140,362"/>
<path d="M68,375 Q100,376 140,371"/>
<path d="M68,375 Q100,381 140,380"/>
<path d="M68,375 Q100,386 140,389"/>
</g>
<g stroke="#f0a0a8" stroke-width="0.6" stroke-opacity="0.5" fill="none">
<path d="M68,375 Q90,355 115,349"/>
<path d="M68,375 Q90,362 115,355"/>
<path d="M68,375 Q90,367 115,361"/>
<path d="M68,375 Q90,373 115,368"/>
<path d="M68,375 Q90,378 115,375"/>
<path d="M68,375 Q90,383 115,382"/>
</g>
<rect x="61.5" y="372" width="5.5" height="6" fill="#b8d0e0"/>
<ellipse cx="149.5" cy="367.5" rx="20" ry="29" transform="rotate(-8 149.5 367.5)" fill="#f9e2ec" stroke="#b02a46" stroke-width="0.8"/>
<g fill="#b8308e"><ellipse cx="157.1" cy="352.6" rx="1.3" ry="0.65" transform="rotate(55 157.1 352.6)"/><ellipse cx="154.3" cy="391.2" rx="1.3" ry="0.65" transform="rotate(55 154.3 391.2)"/><ellipse cx="148.5" cy="363.3" rx="1.3" ry="0.65" transform="rotate(55 148.5 363.3)"/><ellipse cx="151.5" cy="351.5" rx="1.3" ry="0.65" transform="rotate(55 151.5 351.5)"/><ellipse cx="138.0" cy="378.0" rx="1.3" ry="0.65" transform="rotate(55 138.0 378.0)"/><ellipse cx="161.1" cy="356.9" rx="1.3" ry="0.65" transform="rotate(55 161.1 356.9)"/><ellipse cx="166.1" cy="366.8" rx="1.3" ry="0.65" transform="rotate(55 166.1 366.8)"/><ellipse cx="151.2" cy="389.5" rx="1.3" ry="0.65" transform="rotate(55 151.2 389.5)"/><ellipse cx="160.9" cy="371.2" rx="1.3" ry="0.65" transform="rotate(55 160.9 371.2)"/><ellipse cx="143.4" cy="369.7" rx="1.3" ry="0.65" transform="rotate(55 143.4 369.7)"/><ellipse cx="140.7" cy="384.7" rx="1.3" ry="0.65" transform="rotate(55 140.7 384.7)"/><ellipse cx="139.9" cy="363.5" rx="1.3" ry="0.65" transform="rotate(55 139.9 363.5)"/><ellipse cx="158.0" cy="358.2" rx="1.3" ry="0.65" transform="rotate(55 158.0 358.2)"/><ellipse cx="159.9" cy="389.5" rx="1.3" ry="0.65" transform="rotate(55 159.9 389.5)"/><ellipse cx="155.0" cy="380.5" rx="1.3" ry="0.65" transform="rotate(55 155.0 380.5)"/><ellipse cx="152.8" cy="361.9" rx="1.3" ry="0.65" transform="rotate(55 152.8 361.9)"/><ellipse cx="142.4" cy="373.3" rx="1.3" ry="0.65" transform="rotate(55 142.4 373.3)"/><ellipse cx="141.7" cy="346.0" rx="1.3" ry="0.65" transform="rotate(55 141.7 346.0)"/><ellipse cx="156.8" cy="360.8" rx="1.3" ry="0.65" transform="rotate(55 156.8 360.8)"/><ellipse cx="146.0" cy="357.5" rx="1.3" ry="0.65" transform="rotate(55 146.0 357.5)"/><ellipse cx="155.4" cy="351.0" rx="1.3" ry="0.65" transform="rotate(55 155.4 351.0)"/><ellipse cx="162.2" cy="375.4" rx="1.3" ry="0.65" transform="rotate(55 162.2 375.4)"/><ellipse cx="150.8" cy="393.1" rx="1.3" ry="0.65" transform="rotate(55 150.8 393.1)"/><ellipse cx="140.6" cy="368.9" rx="1.3" ry="0.65" transform="rotate(55 140.6 368.9)"/><ellipse cx="160.3" cy="367.8" rx="1.3" ry="0.65" transform="rotate(55 160.3 367.8)"/><ellipse cx="142.9" cy="378.3" rx="1.3" ry="0.65" transform="rotate(55 142.9 378.3)"/><ellipse cx="145.1" cy="377.4" rx="1.3" ry="0.65" transform="rotate(55 145.1 377.4)"/><ellipse cx="157.1" cy="379.9" rx="1.3" ry="0.65" transform="rotate(55 157.1 379.9)"/><ellipse cx="160.9" cy="351.0" rx="1.3" ry="0.65" transform="rotate(55 160.9 351.0)"/><ellipse cx="156.0" cy="348.1" rx="1.3" ry="0.65" transform="rotate(55 156.0 348.1)"/><ellipse cx="140.6" cy="382.6" rx="1.3" ry="0.65" transform="rotate(55 140.6 382.6)"/><ellipse cx="151.6" cy="373.9" rx="1.3" ry="0.65" transform="rotate(55 151.6 373.9)"/><ellipse cx="145.1" cy="371.3" rx="1.3" ry="0.65" transform="rotate(55 145.1 371.3)"/><ellipse cx="166.6" cy="370.0" rx="1.3" ry="0.65" transform="rotate(55 166.6 370.0)"/><ellipse cx="144.0" cy="382.5" rx="1.3" ry="0.65" transform="rotate(55 144.0 382.5)"/><ellipse cx="135.6" cy="366.5" rx="1.3" ry="0.65" transform="rotate(55 135.6 366.5)"/><ellipse cx="163.9" cy="376.7" rx="1.3" ry="0.65" transform="rotate(55 163.9 376.7)"/><ellipse cx="163.6" cy="364.2" rx="1.3" ry="0.65" transform="rotate(55 163.6 364.2)"/><ellipse cx="139.7" cy="366.7" rx="1.3" ry="0.65" transform="rotate(55 139.7 366.7)"/><ellipse cx="148.0" cy="358.6" rx="1.3" ry="0.65" transform="rotate(55 148.0 358.6)"/><ellipse cx="158.6" cy="370.1" rx="1.3" ry="0.65" transform="rotate(55 158.6 370.1)"/><ellipse cx="137.9" cy="374.0" rx="1.3" ry="0.65" transform="rotate(55 137.9 374.0)"/><ellipse cx="141.7" cy="353.6" rx="1.3" ry="0.65" transform="rotate(55 141.7 353.6)"/><ellipse cx="149.4" cy="350.8" rx="1.3" ry="0.65" transform="rotate(55 149.4 350.8)"/><ellipse cx="153.2" cy="378.2" rx="1.3" ry="0.65" transform="rotate(55 153.2 378.2)"/><ellipse cx="157.5" cy="383.9" rx="1.3" ry="0.65" transform="rotate(55 157.5 383.9)"/><ellipse cx="135.5" cy="379.3" rx="1.3" ry="0.65" transform="rotate(55 135.5 379.3)"/><ellipse cx="160.2" cy="384.0" rx="1.3" ry="0.65" transform="rotate(55 160.2 384.0)"/><ellipse cx="160.1" cy="374.2" rx="1.3" ry="0.65" transform="rotate(55 160.1 374.2)"/><ellipse cx="158.3" cy="372.6" rx="1.3" ry="0.65" transform="rotate(55 158.3 372.6)"/><ellipse cx="144.7" cy="375.1" rx="1.3" ry="0.65" transform="rotate(55 144.7 375.1)"/><ellipse cx="135.6" cy="351.7" rx="1.3" ry="0.65" transform="rotate(55 135.6 351.7)"/><ellipse cx="135.2" cy="369.3" rx="1.3" ry="0.65" transform="rotate(55 135.2 369.3)"/><ellipse cx="153.1" cy="344.6" rx="1.3" ry="0.65" transform="rotate(55 153.1 344.6)"/><ellipse cx="164.0" cy="380.7" rx="1.3" ry="0.65" transform="rotate(55 164.0 380.7)"/><ellipse cx="132.1" cy="364.2" rx="1.3" ry="0.65" transform="rotate(55 132.1 364.2)"/><ellipse cx="139.6" cy="349.9" rx="1.3" ry="0.65" transform="rotate(55 139.6 349.9)"/><ellipse cx="159.3" cy="354.8" rx="1.3" ry="0.65" transform="rotate(55 159.3 354.8)"/><ellipse cx="132.7" cy="361.7" rx="1.3" ry="0.65" transform="rotate(55 132.7 361.7)"/><ellipse cx="152.0" cy="357.0" rx="1.3" ry="0.65" transform="rotate(55 152.0 357.0)"/><ellipse cx="152.3" cy="348.4" rx="1.3" ry="0.65" transform="rotate(55 152.3 348.4)"/><ellipse cx="151.5" cy="363.6" rx="1.3" ry="0.65" transform="rotate(55 151.5 363.6)"/><ellipse cx="136.2" cy="358.3" rx="1.3" ry="0.65" transform="rotate(55 136.2 358.3)"/><ellipse cx="140.3" cy="372.8" rx="1.3" ry="0.65" transform="rotate(55 140.3 372.8)"/><ellipse cx="141.5" cy="388.3" rx="1.3" ry="0.65" transform="rotate(55 141.5 388.3)"/><ellipse cx="157.7" cy="346.1" rx="1.3" ry="0.65" transform="rotate(55 157.7 346.1)"/><ellipse cx="152.5" cy="387.7" rx="1.3" ry="0.65" transform="rotate(55 152.5 387.7)"/><ellipse cx="149.1" cy="352.8" rx="1.3" ry="0.65" transform="rotate(55 149.1 352.8)"/><ellipse cx="146.8" cy="369.2" rx="1.3" ry="0.65" transform="rotate(55 146.8 369.2)"/><ellipse cx="162.5" cy="352.5" rx="1.3" ry="0.65" transform="rotate(55 162.5 352.5)"/><ellipse cx="139.2" cy="354.7" rx="1.3" ry="0.65" transform="rotate(55 139.2 354.7)"/><ellipse cx="164.2" cy="372.2" rx="1.3" ry="0.65" transform="rotate(55 164.2 372.2)"/><ellipse cx="153.6" cy="368.8" rx="1.3" ry="0.65" transform="rotate(55 153.6 368.8)"/><ellipse cx="157.2" cy="386.5" rx="1.3" ry="0.65" transform="rotate(55 157.2 386.5)"/><ellipse cx="155.9" cy="371.0" rx="1.3" ry="0.65" transform="rotate(55 155.9 371.0)"/><ellipse cx="140.5" cy="378.1" rx="1.3" ry="0.65" transform="rotate(55 140.5 378.1)"/><ellipse cx="144.3" cy="387.0" rx="1.3" ry="0.65" transform="rotate(55 144.3 387.0)"/><ellipse cx="132.9" cy="357.0" rx="1.3" ry="0.65" transform="rotate(55 132.9 357.0)"/><ellipse cx="138.3" cy="348.2" rx="1.3" ry="0.65" transform="rotate(55 138.3 348.2)"/><ellipse cx="134.2" cy="372.7" rx="1.3" ry="0.65" transform="rotate(55 134.2 372.7)"/><ellipse cx="137.1" cy="382.1" rx="1.3" ry="0.65" transform="rotate(55 137.1 382.1)"/><ellipse cx="162.4" cy="367.6" rx="1.3" ry="0.65" transform="rotate(55 162.4 367.6)"/><ellipse cx="140.9" cy="348.1" rx="1.3" ry="0.65" transform="rotate(55 140.9 348.1)"/><ellipse cx="159.2" cy="348.0" rx="1.3" ry="0.65" transform="rotate(55 159.2 348.0)"/><ellipse cx="153.9" cy="355.2" rx="1.3" ry="0.65" transform="rotate(55 153.9 355.2)"/><ellipse cx="146.2" cy="361.5" rx="1.3" ry="0.65" transform="rotate(55 146.2 361.5)"/><ellipse cx="165.0" cy="362.6" rx="1.3" ry="0.65" transform="rotate(55 165.0 362.6)"/><ellipse cx="151.0" cy="379.4" rx="1.3" ry="0.65" transform="rotate(55 151.0 379.4)"/><ellipse cx="149.7" cy="355.7" rx="1.3" ry="0.65" transform="rotate(55 149.7 355.7)"/><ellipse cx="140.4" cy="375.9" rx="1.3" ry="0.65" transform="rotate(55 140.4 375.9)"/><ellipse cx="141.3" cy="351.1" rx="1.3" ry="0.65" transform="rotate(55 141.3 351.1)"/><ellipse cx="146.2" cy="352.1" rx="1.3" ry="0.65" transform="rotate(55 146.2 352.1)"/><ellipse cx="153.7" cy="346.7" rx="1.3" ry="0.65" transform="rotate(55 153.7 346.7)"/><ellipse cx="159.6" cy="365.2" rx="1.3" ry="0.65" transform="rotate(55 159.6 365.2)"/><ellipse cx="148.2" cy="361.1" rx="1.3" ry="0.65" transform="rotate(55 148.2 361.1)"/><ellipse cx="153.0" cy="381.2" rx="1.3" ry="0.65" transform="rotate(55 153.0 381.2)"/><ellipse cx="151.1" cy="385.5" rx="1.3" ry="0.65" transform="rotate(55 151.1 385.5)"/><ellipse cx="154.7" cy="357.6" rx="1.3" ry="0.65" transform="rotate(55 154.7 357.6)"/><ellipse cx="147.8" cy="344.9" rx="1.3" ry="0.65" transform="rotate(55 147.8 344.9)"/><ellipse cx="151.0" cy="383.3" rx="1.3" ry="0.65" transform="rotate(55 151.0 383.3)"/><ellipse cx="155.3" cy="387.6" rx="1.3" ry="0.65" transform="rotate(55 155.3 387.6)"/><ellipse cx="155.5" cy="383.7" rx="1.3" ry="0.65" transform="rotate(55 155.5 383.7)"/><ellipse cx="157.5" cy="350.5" rx="1.3" ry="0.65" transform="rotate(55 157.5 350.5)"/><ellipse cx="141.8" cy="343.4" rx="1.3" ry="0.65" transform="rotate(55 141.8 343.4)"/><ellipse cx="138.6" cy="369.9" rx="1.3" ry="0.65" transform="rotate(55 138.6 369.9)"/><ellipse cx="150.6" cy="345.7" rx="1.3" ry="0.65" transform="rotate(55 150.6 345.7)"/><ellipse cx="147.4" cy="347.2" rx="1.3" ry="0.65" transform="rotate(55 147.4 347.2)"/><ellipse cx="151.7" cy="359.9" rx="1.3" ry="0.65" transform="rotate(55 151.7 359.9)"/><ellipse cx="166.4" cy="377.4" rx="1.3" ry="0.65" transform="rotate(55 166.4 377.4)"/><ellipse cx="138.3" cy="365.0" rx="1.3" ry="0.65" transform="rotate(55 138.3 365.0)"/><ellipse cx="165.6" cy="374.0" rx="1.3" ry="0.65" transform="rotate(55 165.6 374.0)"/><ellipse cx="163.0" cy="355.5" rx="1.3" ry="0.65" transform="rotate(55 163.0 355.5)"/><ellipse cx="142.8" cy="375.9" rx="1.3" ry="0.65" transform="rotate(55 142.8 375.9)"/><ellipse cx="159.9" cy="359.5" rx="1.3" ry="0.65" transform="rotate(55 159.9 359.5)"/><ellipse cx="143.2" cy="364.8" rx="1.3" ry="0.65" transform="rotate(55 143.2 364.8)"/><ellipse cx="139.2" cy="346.2" rx="1.3" ry="0.65" transform="rotate(55 139.2 346.2)"/><ellipse cx="139.5" cy="380.7" rx="1.3" ry="0.65" transform="rotate(55 139.5 380.7)"/><ellipse cx="135.0" cy="364.1" rx="1.3" ry="0.65" transform="rotate(55 135.0 364.1)"/><ellipse cx="152.7" cy="375.8" rx="1.3" ry="0.65" transform="rotate(55 152.7 375.8)"/><ellipse cx="137.3" cy="361.7" rx="1.3" ry="0.65" transform="rotate(55 137.3 361.7)"/><ellipse cx="156.8" cy="390.3" rx="1.3" ry="0.65" transform="rotate(55 156.8 390.3)"/><ellipse cx="161.4" cy="386.5" rx="1.3" ry="0.65" transform="rotate(55 161.4 386.5)"/><ellipse cx="151.0" cy="343.1" rx="1.3" ry="0.65" transform="rotate(55 151.0 343.1)"/><ellipse cx="133.8" cy="359.3" rx="1.3" ry="0.65" transform="rotate(55 133.8 359.3)"/><ellipse cx="165.8" cy="379.5" rx="1.3" ry="0.65" transform="rotate(55 165.8 379.5)"/><ellipse cx="134.2" cy="375.2" rx="1.3" ry="0.65" transform="rotate(55 134.2 375.2)"/><ellipse cx="147.0" cy="350.2" rx="1.3" ry="0.65" transform="rotate(55 147.0 350.2)"/><ellipse cx="153.1" cy="384.9" rx="1.3" ry="0.65" transform="rotate(55 153.1 384.9)"/><ellipse cx="156.7" cy="369.1" rx="1.3" ry="0.65" transform="rotate(55 156.7 369.1)"/><ellipse cx="150.1" cy="387.3" rx="1.3" ry="0.65" transform="rotate(55 150.1 387.3)"/><ellipse cx="153.3" cy="350.4" rx="1.3" ry="0.65" transform="rotate(55 153.3 350.4)"/><ellipse cx="151.6" cy="354.7" rx="1.3" ry="0.65" transform="rotate(55 151.6 354.7)"/><ellipse cx="147.2" cy="342.5" rx="1.3" ry="0.65" transform="rotate(55 147.2 342.5)"/><ellipse cx="141.1" cy="356.7" rx="1.3" ry="0.65" transform="rotate(55 141.1 356.7)"/><ellipse cx="145.3" cy="380.4" rx="1.3" ry="0.65" transform="rotate(55 145.3 380.4)"/><ellipse cx="136.5" cy="375.7" rx="1.3" ry="0.65" transform="rotate(55 136.5 375.7)"/><ellipse cx="138.1" cy="383.9" rx="1.3" ry="0.65" transform="rotate(55 138.1 383.9)"/><ellipse cx="164.3" cy="369.9" rx="1.3" ry="0.65" transform="rotate(55 164.3 369.9)"/><ellipse cx="159.9" cy="352.8" rx="1.3" ry="0.65" transform="rotate(55 159.9 352.8)"/><ellipse cx="132.5" cy="368.5" rx="1.3" ry="0.65" transform="rotate(55 132.5 368.5)"/><ellipse cx="135.8" cy="349.4" rx="1.3" ry="0.65" transform="rotate(55 135.8 349.4)"/><ellipse cx="138.4" cy="351.8" rx="1.3" ry="0.65" transform="rotate(55 138.4 351.8)"/><ellipse cx="144.1" cy="390.3" rx="1.3" ry="0.65" transform="rotate(55 144.1 390.3)"/><ellipse cx="146.8" cy="375.3" rx="1.3" ry="0.65" transform="rotate(55 146.8 375.3)"/><ellipse cx="145.6" cy="384.2" rx="1.3" ry="0.65" transform="rotate(55 145.6 384.2)"/><ellipse cx="156.4" cy="355.6" rx="1.3" ry="0.65" transform="rotate(55 156.4 355.6)"/><ellipse cx="142.8" cy="384.8" rx="1.3" ry="0.65" transform="rotate(55 142.8 384.8)"/><ellipse cx="135.2" cy="361.3" rx="1.3" ry="0.65" transform="rotate(55 135.2 361.3)"/><ellipse cx="147.6" cy="355.0" rx="1.3" ry="0.65" transform="rotate(55 147.6 355.0)"/><ellipse cx="139.9" cy="361.4" rx="1.3" ry="0.65" transform="rotate(55 139.9 361.4)"/><ellipse cx="155.3" cy="378.0" rx="1.3" ry="0.65" transform="rotate(55 155.3 378.0)"/><ellipse cx="154.3" cy="359.7" rx="1.3" ry="0.65" transform="rotate(55 154.3 359.7)"/><ellipse cx="144.4" cy="367.2" rx="1.3" ry="0.65" transform="rotate(55 144.4 367.2)"/><ellipse cx="161.5" cy="364.1" rx="1.3" ry="0.65" transform="rotate(55 161.5 364.1)"/><ellipse cx="157.6" cy="365.9" rx="1.3" ry="0.65" transform="rotate(55 157.6 365.9)"/><ellipse cx="160.7" cy="376.9" rx="1.3" ry="0.65" transform="rotate(55 160.7 376.9)"/><ellipse cx="141.9" cy="380.3" rx="1.3" ry="0.65" transform="rotate(55 141.9 380.3)"/><ellipse cx="139.2" cy="386.4" rx="1.3" ry="0.65" transform="rotate(55 139.2 386.4)"/><ellipse cx="156.4" cy="392.3" rx="1.3" ry="0.65" transform="rotate(55 156.4 392.3)"/><ellipse cx="141.9" cy="366.6" rx="1.3" ry="0.65" transform="rotate(55 141.9 366.6)"/><ellipse cx="147.3" cy="372.3" rx="1.3" ry="0.65" transform="rotate(55 147.3 372.3)"/><ellipse cx="154.7" cy="353.0" rx="1.3" ry="0.65" transform="rotate(55 154.7 353.0)"/><ellipse cx="158.1" cy="388.5" rx="1.3" ry="0.65" transform="rotate(55 158.1 388.5)"/><ellipse cx="149.7" cy="347.7" rx="1.3" ry="0.65" transform="rotate(55 149.7 347.7)"/><ellipse cx="148.8" cy="389.5" rx="1.3" ry="0.65" transform="rotate(55 148.8 389.5)"/><ellipse cx="137.2" cy="367.8" rx="1.3" ry="0.65" transform="rotate(55 137.2 367.8)"/><ellipse cx="162.6" cy="378.8" rx="1.3" ry="0.65" transform="rotate(55 162.6 378.8)"/><ellipse cx="155.4" cy="344.4" rx="1.3" ry="0.65" transform="rotate(55 155.4 344.4)"/><ellipse cx="159.3" cy="386.5" rx="1.3" ry="0.65" transform="rotate(55 159.3 386.5)"/><ellipse cx="133.4" cy="366.4" rx="1.3" ry="0.65" transform="rotate(55 133.4 366.4)"/><ellipse cx="136.7" cy="371.8" rx="1.3" ry="0.65" transform="rotate(55 136.7 371.8)"/><ellipse cx="145.5" cy="359.5" rx="1.3" ry="0.65" transform="rotate(55 145.5 359.5)"/><ellipse cx="148.7" cy="391.6" rx="1.3" ry="0.65" transform="rotate(55 148.7 391.6)"/><ellipse cx="162.4" cy="373.3" rx="1.3" ry="0.65" transform="rotate(55 162.4 373.3)"/><ellipse cx="132.5" cy="371.5" rx="1.3" ry="0.65" transform="rotate(55 132.5 371.5)"/><ellipse cx="138.3" cy="359.9" rx="1.3" ry="0.65" transform="rotate(55 138.3 359.9)"/><ellipse cx="155.7" cy="366.9" rx="1.3" ry="0.65" transform="rotate(55 155.7 366.9)"/><ellipse cx="150.8" cy="376.8" rx="1.3" ry="0.65" transform="rotate(55 150.8 376.8)"/><ellipse cx="158.3" cy="381.8" rx="1.3" ry="0.65" transform="rotate(55 158.3 381.8)"/><ellipse cx="141.4" cy="370.8" rx="1.3" ry="0.65" transform="rotate(55 141.4 370.8)"/><ellipse cx="166.8" cy="372.2" rx="1.3" ry="0.65" transform="rotate(55 166.8 372.2)"/><ellipse cx="155.3" cy="362.4" rx="1.3" ry="0.65" transform="rotate(55 155.3 362.4)"/><ellipse cx="150.0" cy="357.8" rx="1.3" ry="0.65" transform="rotate(55 150.0 357.8)"/><ellipse cx="166.0" cy="360.8" rx="1.3" ry="0.65" transform="rotate(55 166.0 360.8)"/><ellipse cx="166.6" cy="364.2" rx="1.3" ry="0.65" transform="rotate(55 166.6 364.2)"/><ellipse cx="150.4" cy="361.5" rx="1.3" ry="0.65" transform="rotate(55 150.4 361.5)"/><ellipse cx="149.8" cy="365.1" rx="1.3" ry="0.65" transform="rotate(55 149.8 365.1)"/><ellipse cx="150.1" cy="381.5" rx="1.3" ry="0.65" transform="rotate(55 150.1 381.5)"/><ellipse cx="134.5" cy="377.2" rx="1.3" ry="0.65" transform="rotate(55 134.5 377.2)"/><ellipse cx="152.1" cy="391.4" rx="1.3" ry="0.65" transform="rotate(55 152.1 391.4)"/></g>
<g stroke="#fcf0f4" stroke-width="1.7" fill="none"><path d="M133,352 L143,360 L150,368 L160,362 L168,357 M150,368 L147,381 L146,395 M150,368 L158,376 L165,385 M143,360 L145,343"/></g>
<path d="M143,340 L172,330.5 L194,353 L155,364.5 Z" fill="#e6a3ab"/>
<g stroke="#c96a78" stroke-width="0.5"><path d="M146,344 L175,334 M148,350 L180,340 M150,356 L185,346 M152,361 L189,351"/></g>
<ellipse cx="184" cy="342.5" rx="11" ry="12.5" transform="rotate(-20 184 342.5)" fill="#f9e2ec" stroke="#c0506a" stroke-width="0.6"/>
<g fill="#b8308e"><ellipse cx="175.5" cy="341.7" rx="1.1" ry="0.6" transform="rotate(55 175.5 341.7)"/><ellipse cx="184.1" cy="332.8" rx="1.1" ry="0.6" transform="rotate(55 184.1 332.8)"/><ellipse cx="178.3" cy="343.1" rx="1.1" ry="0.6" transform="rotate(55 178.3 343.1)"/><ellipse cx="179.1" cy="332.9" rx="1.1" ry="0.6" transform="rotate(55 179.1 332.9)"/><ellipse cx="185.8" cy="346.8" rx="1.1" ry="0.6" transform="rotate(55 185.8 346.8)"/><ellipse cx="179.0" cy="350.4" rx="1.1" ry="0.6" transform="rotate(55 179.0 350.4)"/><ellipse cx="181.3" cy="350.4" rx="1.1" ry="0.6" transform="rotate(55 181.3 350.4)"/><ellipse cx="185.9" cy="343.9" rx="1.1" ry="0.6" transform="rotate(55 185.9 343.9)"/><ellipse cx="176.0" cy="338.7" rx="1.1" ry="0.6" transform="rotate(55 176.0 338.7)"/><ellipse cx="189.3" cy="352.0" rx="1.1" ry="0.6" transform="rotate(55 189.3 352.0)"/><ellipse cx="187.7" cy="336.8" rx="1.1" ry="0.6" transform="rotate(55 187.7 336.8)"/><ellipse cx="178.9" cy="347.7" rx="1.1" ry="0.6" transform="rotate(55 178.9 347.7)"/><ellipse cx="178.6" cy="337.9" rx="1.1" ry="0.6" transform="rotate(55 178.6 337.9)"/><ellipse cx="175.6" cy="345.6" rx="1.1" ry="0.6" transform="rotate(55 175.6 345.6)"/><ellipse cx="190.3" cy="343.5" rx="1.1" ry="0.6" transform="rotate(55 190.3 343.5)"/><ellipse cx="178.6" cy="340.5" rx="1.1" ry="0.6" transform="rotate(55 178.6 340.5)"/><ellipse cx="188.6" cy="349.4" rx="1.1" ry="0.6" transform="rotate(55 188.6 349.4)"/><ellipse cx="190.4" cy="347.4" rx="1.1" ry="0.6" transform="rotate(55 190.4 347.4)"/><ellipse cx="192.9" cy="345.5" rx="1.1" ry="0.6" transform="rotate(55 192.9 345.5)"/><ellipse cx="185.3" cy="340.6" rx="1.1" ry="0.6" transform="rotate(55 185.3 340.6)"/><ellipse cx="183.8" cy="338.7" rx="1.1" ry="0.6" transform="rotate(55 183.8 338.7)"/><ellipse cx="187.8" cy="343.1" rx="1.1" ry="0.6" transform="rotate(55 187.8 343.1)"/><ellipse cx="182.4" cy="341.3" rx="1.1" ry="0.6" transform="rotate(55 182.4 341.3)"/><ellipse cx="182.0" cy="333.6" rx="1.1" ry="0.6" transform="rotate(55 182.0 333.6)"/><ellipse cx="186.4" cy="333.8" rx="1.1" ry="0.6" transform="rotate(55 186.4 333.8)"/><ellipse cx="178.6" cy="335.4" rx="1.1" ry="0.6" transform="rotate(55 178.6 335.4)"/><ellipse cx="187.9" cy="346.1" rx="1.1" ry="0.6" transform="rotate(55 187.9 346.1)"/><ellipse cx="183.1" cy="345.1" rx="1.1" ry="0.6" transform="rotate(55 183.1 345.1)"/><ellipse cx="175.5" cy="336.4" rx="1.1" ry="0.6" transform="rotate(55 175.5 336.4)"/><ellipse cx="183.3" cy="336.1" rx="1.1" ry="0.6" transform="rotate(55 183.3 336.1)"/><ellipse cx="183.2" cy="347.3" rx="1.1" ry="0.6" transform="rotate(55 183.2 347.3)"/><ellipse cx="181.1" cy="344.0" rx="1.1" ry="0.6" transform="rotate(55 181.1 344.0)"/><ellipse cx="185.2" cy="349.3" rx="1.1" ry="0.6" transform="rotate(55 185.2 349.3)"/><ellipse cx="192.5" cy="341.2" rx="1.1" ry="0.6" transform="rotate(55 192.5 341.2)"/><ellipse cx="186.8" cy="351.7" rx="1.1" ry="0.6" transform="rotate(55 186.8 351.7)"/><ellipse cx="184.3" cy="352.4" rx="1.1" ry="0.6" transform="rotate(55 184.3 352.4)"/><ellipse cx="187.3" cy="339.0" rx="1.1" ry="0.6" transform="rotate(55 187.3 339.0)"/><ellipse cx="189.8" cy="338.0" rx="1.1" ry="0.6" transform="rotate(55 189.8 338.0)"/><ellipse cx="192.7" cy="338.3" rx="1.1" ry="0.6" transform="rotate(55 192.7 338.3)"/><ellipse cx="189.8" cy="334.8" rx="1.1" ry="0.6" transform="rotate(55 189.8 334.8)"/><ellipse cx="181.1" cy="337.2" rx="1.1" ry="0.6" transform="rotate(55 181.1 337.2)"/><ellipse cx="191.3" cy="349.6" rx="1.1" ry="0.6" transform="rotate(55 191.3 349.6)"/><ellipse cx="178.1" cy="345.4" rx="1.1" ry="0.6" transform="rotate(55 178.1 345.4)"/><ellipse cx="180.8" cy="346.2" rx="1.1" ry="0.6" transform="rotate(55 180.8 346.2)"/><ellipse cx="188.8" cy="340.7" rx="1.1" ry="0.6" transform="rotate(55 188.8 340.7)"/><ellipse cx="176.8" cy="347.6" rx="1.1" ry="0.6" transform="rotate(55 176.8 347.6)"/><ellipse cx="192.9" cy="347.8" rx="1.1" ry="0.6" transform="rotate(55 192.9 347.8)"/><ellipse cx="185.4" cy="336.9" rx="1.1" ry="0.6" transform="rotate(55 185.4 336.9)"/><ellipse cx="181.9" cy="352.7" rx="1.1" ry="0.6" transform="rotate(55 181.9 352.7)"/><ellipse cx="191.3" cy="336.4" rx="1.1" ry="0.6" transform="rotate(55 191.3 336.4)"/><ellipse cx="184.0" cy="342.8" rx="1.1" ry="0.6" transform="rotate(55 184.0 342.8)"/><ellipse cx="193.0" cy="343.4" rx="1.1" ry="0.6" transform="rotate(55 193.0 343.4)"/><ellipse cx="180.8" cy="339.8" rx="1.1" ry="0.6" transform="rotate(55 180.8 339.8)"/><ellipse cx="174.6" cy="343.7" rx="1.1" ry="0.6" transform="rotate(55 174.6 343.7)"/></g>
<circle cx="165" cy="356" r="0.9" fill="#222"/>
</g>
<path d="M171.3,349.9 L191.1,359.3 L197.6,357.9 L202.1,369.3 L189.7,369.8 L191.3,366.1 L171.3,350.7 Z" fill="#135f2b"/>
<path d="M456.2,375.0 L476.0,384.4 L482.5,383.0 L487.0,394.4 L474.6,394.9 L476.2,391.2 L456.2,375.8 Z" fill="#135f2b"/>
<path d="M118.2,314 L119.8,314 L119.8,328.5 L122.3,328.5 L119,336.5 L115.7,328.5 L118.2,328.5 Z" fill="#111"/>
<path d="M289.2,319.5 L290.8,319.5 L290.8,327.5 L293.2,327.5 L290,335 L286.8,327.5 L289.2,327.5 Z" fill="#111"/>
<path d="M507.2,355 L508.8,355 L508.8,364 L511.2,364 L508,371 L504.8,364 L507.2,364 Z" fill="#111"/>
<g stroke="#333" stroke-width="0.55" fill="none">
<path d="M102,414.5 L124,394.8"/>
<path d="M124,394.8 L165.5,356" stroke="#555" stroke-width="0.35" stroke-opacity="0.6"/>
<path d="M195.3,471.6 L206.4,413.2"/>
<path d="M241.3,340.6 Q250,360 248,380 Q252,420 266.4,471.6"/>
<path d="M355.8,469 L368.5,433.3"/>
<path d="M487.5,422.5 L487.5,459"/>
<path d="M524.7,431.3 L524.7,459"/>
</g>
<circle cx="241.3" cy="340.6" r="0.9" fill="#222"/>
<circle cx="206.4" cy="413.2" r="0.9" fill="#222"/>
<circle cx="368.5" cy="433.3" r="0.9" fill="#222"/>
<circle cx="487.5" cy="422.5" r="0.9" fill="#222"/>
<circle cx="524.7" cy="431.3" r="0.9" fill="#222"/>
<g font-family="Liberation Sans, sans-serif">
<text stroke="#000" stroke-width="0.2" x="62.3" y="280.5" font-size="9.45" font-weight="bold" fill="#000" letter-spacing="-0.1">Múscul estriat.</text>
<text x="62.5" y="288.8" font-size="7.66" font-weight="normal" fill="#151515" letter-spacing="0">Està format per milers de <tspan font-weight="bold">fibres musculars</tspan></text>
<text x="62.5" y="297.3" font-size="7.66" font-weight="normal" fill="#151515" letter-spacing="0">associades formant <tspan font-weight="bold">fascicles musculars</tspan></text>
<text x="62.5" y="306.0" font-size="7.66" font-weight="normal" fill="#151515" letter-spacing="0">que estàn rodejats per teixit conjuntiu</text>
<text x="62.5" y="314.7" font-size="7.66" font-weight="normal" fill="#151515" letter-spacing="0"><tspan font-weight="bold">(perimisi)</tspan></text>
<text x="230.2" y="287.3" font-size="7.66" font-weight="normal" fill="#151515" letter-spacing="0"><tspan font-weight="bold" font-size="8.6">Fibra muscular,</tspan> Correspon a una cèl·lula muscular.</text>
<text x="230.2" y="295.6" font-size="7.66" font-weight="normal" fill="#151515" letter-spacing="0">Presenta més de un miler de <tspan font-weight="bold">miofibril·les</tspan>, molts nuclis,</text>
<text x="230.2" y="304.0" font-size="7.66" font-weight="normal" fill="#151515" letter-spacing="0">un retícle endoplasmàtic molt desenvolupat, el <tspan font-weight="bold">sarcoplasma</tspan></text>
<text x="230.2" y="312.2" font-size="7.66" font-weight="normal" fill="#151515" letter-spacing="0">y una membrana cel·lular externa anomenada <tspan font-weight="bold">sarcolema</tspan>.</text>
<text x="464" y="333.3" font-size="7.66" font-weight="normal" fill="#151515" letter-spacing="0"><tspan font-weight="bold">Miofibril·la</tspan>, amb miofilaments</text>
<text x="464" y="342.3" font-size="7.66" font-weight="normal" fill="#151515" letter-spacing="0">d'actina i miosina disposats</text>
<text x="464" y="351.0" font-size="7.66" font-weight="normal" fill="#151515" letter-spacing="0">paralelament a la fibra.</text>
<text x="58.7" y="424.7" font-size="7.66" font-weight="bold" fill="#151515" letter-spacing="0">Fascicle muscular,</text>
<text x="58.7" y="433.6" font-size="7.66" font-weight="normal" fill="#151515" letter-spacing="0">format per fibres</text>
<text x="58.7" y="442.4" font-size="7.66" font-weight="normal" fill="#151515" letter-spacing="0">musculars.</text>
<text x="169.6" y="481.0" font-size="7.65" font-weight="bold" fill="#151515" letter-spacing="0">Sarcoplasma</text>
<text x="265.4" y="481.0" font-size="7.65" font-weight="bold" fill="#151515" letter-spacing="0">Nucli</text>
<text x="341.0" y="479.0" font-size="7.65" font-weight="bold" fill="#151515" letter-spacing="0">Sarcolema</text>
<text stroke="#222" stroke-width="0.25" x="456.4" y="464.7" font-size="7.9" font-weight="normal" fill="#222" letter-spacing="0.15">Miofilament</text>
<text stroke="#222" stroke-width="0.25" x="456.4" y="473.2" font-size="7.9" font-weight="normal" fill="#222" letter-spacing="0.15">d'actina.</text>
<text x="518.4" y="464.7" font-size="7.9" font-weight="bold" fill="#151515" letter-spacing="0">Miofilament</text>
<text x="518.4" y="473.2" font-size="7.9" font-weight="bold" fill="#151515" letter-spacing="0">de miosina.</text>
</g>
<g id="armL">
<path d="M128.8,493.8 L134.5,501.4 C137,507 140,510 145.8,513.7 C152,518 156,520 159,524.1 C163,530 166,533 168.6,537.4 C172,543 175,548 178,552.6 C181,558 185,565 187.5,569.6 C192,578 200,586 217.4,595.5 C226,601 232,606 236.4,609.8 C241,613 245,616 248.2,618 C253,621 256,622 260,622.8 C268,624 276,624.5 281.4,625.2 C286,626 290,627 290.9,628.7 C288,631 278,631 271.9,632.3 C268,633 268,634.5 269.5,635.8 C274,639 278,641 281.4,643 C290,646 298,647 302.7,648.9 C306,650 308,650.5 307.4,651.2 C305,653 301,653.6 298,653.6 C290,653.4 283,652.5 276.6,651.2 C268,648 262,646 257.7,643 C250,638 246,634 241,631 C232,625 224,620 217.4,616.9 C208,612 200,610 193.7,607.4 C186,604 181,602 177.1,600.3 C173,598 171,596 170,593.2 C165,588 160,584 155.3,575.3 C150,573 146,571 142,569.6 C136,566 131,563.5 126.9,562 C120,560 116,558 113.6,556.4 C110,550 108,545 106,543 C104,541 103,540 102.2,540.2 C98,546 95,551 92.7,556.4 L83,556 L76,548 L75,505 L95,497 Z" fill="#fdf1f1" filter="url(#blur1)"/>
<path d="M77.2,509.5 C79,503 82,499 85.4,498.2 L90.5,498.7 C97,497.5 104,497.5 111,497.7 C114,498 116,498.5 116.2,499.2 C120,501 123,503 125.4,505.4 C120,507 110,507 103.9,508.5 C100,512 100,518 102.9,522.9 C101,527 99,530 96.7,533.2 C94,537 92,540 90.5,543.4 C88,547 86.5,550 85.4,551.7 C83,554 81,555 79.2,554.7 C77.5,554 77.2,553.7 77.2,553.7 C76,545 75,538 75.1,531.1 C75,523 76,515 77.2,509.5 Z" fill="#f9e2c2" stroke="#dcb48a" stroke-width="0.5"/>
<path d="M86,500 C95,502 105,501 113,500 M81,512 C84,506 88,503 92,503 M92,503 C94,506 94,509 92,511" stroke="#dcb48a" stroke-width="0.4" fill="none"/>
<path d="M100,509 C103,505 109,506 112,509 L185,581 C187,585 185,590 181,591 C178,592 176,590 174,588 L104,523 C99,520 98,513 100,509 Z" fill="#f9e2c2" stroke="#dcb48a" stroke-width="0.5"/>
<path d="M112,522 L178,583" stroke="#dcb48a" stroke-width="0.4" fill="none"/>
<path d="M175,585 C179,583 184,584 187,587 L240,614 L258,622.5 L281,625.8 L289.5,628.4 L272,631.2 L268.5,635.5 L282,642.8 L303,648.8 L306.5,651 L298,652.8 L277,650.6 L256,642.5 L236,622.5 L180,595 C175,593 173,588 175,585 Z" fill="#f9e2c2" stroke="#dcb48a" stroke-width="0.5"/>
<path d="M186,592 L255,626 M190,589 L258,623 M258,623 L262,636 M264,628 L270,640 M275,630 L300,650" stroke="#dcb48a" stroke-width="0.4" fill="none"/>
<path d="M121.5,508.5 C135,511 150,518 162,530 C172,541 179,554 181.5,566 C181,569 179,571 177,571.5 C166,563 153,553 145.8,545 C135,535 125,524 120.3,515 C119.5,512 119.8,509.5 121.5,508.5 Z" fill="url(#bic)"/>
<path d="M102,504.5 L122,508.5 L120.5,514 L103,509 Z" fill="#bcd2da"/>
<path d="M176,571 L181,566.5 L199,588 L195,590 Z" fill="#bcd2da"/>
<g fill="none" stroke="#b4382e" stroke-width="0.9">
<path d="M128.8,493.8 L134.5,501.4 C137,507 140,510 145.8,513.7 C152,518 156,520 159,524.1 C163,530 166,533 168.6,537.4 C172,543 175,548 178,552.6 C181,558 185,565 187.5,569.6 C192,578 200,586 217.4,595.5 C226,601 232,606 236.4,609.8 C241,613 245,616 248.2,618 C253,621 256,622 260,622.8 C268,624 276,624.5 281.4,625.2 C286,626 290,627 290.9,628.7 C288,631 278,631 271.9,632.3 C268,633 268,634.5 269.5,635.8 C274,639 278,641 281.4,643 C290,646 298,647 302.7,648.9 C306,650 308,650.5 307.4,651.2 C305,653 301,653.6 298,653.6 C290,653.4 283,652.5 276.6,651.2 C268,648 262,646 257.7,643 C250,638 246,634 241,631 C232,625 224,620 217.4,616.9 C208,612 200,610 193.7,607.4 C186,604 181,602 177.1,600.3 C173,598 171,596 170,593.2 C165,588 160,584 155.3,575.3"/>
<path d="M170,584.8 C160,578 150,574 142,569.6 C136,566 131,563.5 126.9,562 C120,560 116,558 113.6,556.4 C110,550 108,545 106,543 C104,541 103,540 102.2,540.2 C98,546 95,551 92.7,556.4"/>
</g>
</g>
<g id="armR">
<path d="M361.4,499.5 C363,503 365,505 367,507 C371,513 374,517 376.5,522.2 C381,530 385,534 387.9,539.3 C391,546 393,551 395.5,558.2 C397,566 397.5,573 398.3,579.1 C399,583 400,586 401.2,588.6 C404,588 406,587.5 408.7,586.7 L413.7,583.8 C422,582 430,582 437.4,581.5 C445,581 453,580 461.1,579.1 C468,577 474,574 480,570.8 C484,567 487,564 489.5,561.3 C491,558 492.5,556 494.3,554.2 C496,551 499,549 501.4,548.3 C503,548 505,548.5 506.1,549.5 C506,552 505,553 503.7,554.2 C501,558 499,561 497.8,563.7 C499,565 500,565 501.4,564.9 C508,563 514,561 518,559 C522,556 525,553 527.4,551.8 C529,550 531,548.5 532.2,548.3 C534,549 534,551 533.4,553 C531,557 528,560 525,562.5 C521,566 517,569 513.2,572 C507,576 500,580 494.3,582.7 C489,585 484,586 480,587.4 C473,590 467,592 461.1,594.5 C453,597 445,601 437.4,604 C429,607 421,609 413.7,611.1 C408,612.5 403,613.5 399.5,613.5 C395,613 392,612 390,611.1 L390,611.1 C386,609 383,607 380.3,605.6 C377,601 374,598 370.8,594.3 C366,590 362,587 359.5,584.8 C355,580 351,577 348,573.4 C344,568 341,565 338.6,562 C336,557 334.5,554 332.9,552.6 C330,552 327,553 325.3,554.5 C320,557 316,560 314,562 L302,562 L297,540 L298,515 L310,503 L325,499 L345,499 Z" fill="#fdf1f1" filter="url(#blur1)"/>
<path d="M305.4,516.5 C309,510 313,507 317.7,506.1 C326,505 336,507 346.2,510.9 C342,513 337,514 333,516 C329,520 329,526 331,530 C328,537 325,543 323.4,545 C321,548 319,551 315.9,552.6 C312,556 309,559 306.4,560.1 C303,559 301,558 300.7,558.2 C300,545 301,528 305.4,516.5 Z" fill="#f9e2c2" stroke="#dcb48a" stroke-width="0.5"/>
<path d="M316,508 C325,509 335,509 344,511 M309,520 C312,514 316,511 320,510" stroke="#dcb48a" stroke-width="0.4" fill="none"/>
<path d="M331,519 C335,515 341,516 344,520 L404,597 C407,602 405,608 400,608.5 C396,609 393,607 391,604 L333,531 C329,527 329,522 331,519 Z" fill="#f9e2c2" stroke="#dcb48a" stroke-width="0.5"/>
<path d="M340,530 L398,602" stroke="#dcb48a" stroke-width="0.4" fill="none"/>
<path d="M396,598 L430,590 L461,585 L480,578 L490,570 L497,560 L502,551 L505,550 L503,555 L499,564 L502,565 L518,560 L527,552.5 L532,549.5 L532.5,553 L525,562 L513,571.5 L494,582 L480,587 L461,594 L437,603.5 L414,610.5 L400,612 C394,611 391,606 393,602 Z" fill="#f9e2c2" stroke="#dcb48a" stroke-width="0.5"/>
<path d="M402,603 L462,589 L490,577 M404,607 L465,591 M490,577 L500,566 M492,580 L520,563" stroke="#dcb48a" stroke-width="0.4" fill="none"/>
<circle cx="399.5" cy="603" r="4.5" fill="#f9e2c2" stroke="#dcb48a" stroke-width="0.5"/>
<path d="M350,521 C360,524 368,528 372,533 C380,542 386,552 391.7,571.5 C394,580 395,585 394.5,588 C393,591 391,592 389.8,592.5 C384,588 378,578 370.8,565.8 C364,556 356,545 351,535 C348,530 347,524 350,521 Z" fill="url(#bic)"/>
<path d="M333,514.5 L350,520.5 L349,525.5 L332,519 Z" fill="#bcd2da"/>
<path d="M389.8,592.5 L394.5,588 L406,598 L402,601 Z" fill="#bcd2da"/>
<g fill="none" stroke="#b4382e" stroke-width="0.9">
<path d="M361.4,499.5 C363,503 365,505 367,507 C371,513 374,517 376.5,522.2 C381,530 385,534 387.9,539.3 C391,546 393,551 395.5,558.2 C397,566 397.5,573 398.3,579.1 C399,583 400,586 401.2,588.6 C404,588 406,587.5 408.7,586.7 L413.7,583.8 C422,582 430,582 437.4,581.5 C445,581 453,580 461.1,579.1 C468,577 474,574 480,570.8 C484,567 487,564 489.5,561.3 C491,558 492.5,556 494.3,554.2 C496,551 499,549 501.4,548.3 C503,548 505,548.5 506.1,549.5 C506,552 505,553 503.7,554.2 C501,558 499,561 497.8,563.7 C499,565 500,565 501.4,564.9 C508,563 514,561 518,559 C522,556 525,553 527.4,551.8 C529,550 531,548.5 532.2,548.3 C534,549 534,551 533.4,553 C531,557 528,560 525,562.5 C521,566 517,569 513.2,572 C507,576 500,580 494.3,582.7 C489,585 484,586 480,587.4 C473,590 467,592 461.1,594.5 C453,597 445,601 437.4,604 C429,607 421,609 413.7,611.1 C408,612.5 403,613.5 399.5,613.5 C395,613 392,612 390,611.1"/>
<path d="M390,611.1 C386,609 383,607 380.3,605.6 C377,601 374,598 370.8,594.3 C366,590 362,587 359.5,584.8 C355,580 351,577 348,573.4 C344,568 341,565 338.6,562 C336,557 334.5,554 332.9,552.6 C330,552 327,553 325.3,554.5 C320,557 316,560 314,562"/>
</g>
</g>
<path d="M148,537.9 C144,550 142.5,565 141.5,587.7 C141,600 143,610 147.3,616.5 C151,624 155,629 158.8,633.8 L155.2,646.7 L176,652.5 L180.4,631.6 L170.3,635.2 C166,629 162,624 160,619.4 C156,610 154,604 153.2,599.2 C151.5,590 150.8,582 150.5,573.2 C149.8,560 149.2,548 148.7,538.6 Z" fill="#666" opacity="0.45" transform="translate(2,1.5)" filter="url(#blur2)"/>
<path d="M148,537.9 C144,550 142.5,565 141.5,587.7 C141,600 143,610 147.3,616.5 C151,624 155,629 158.8,633.8 L155.2,646.7 L176,652.5 L180.4,631.6 L170.3,635.2 C166,629 162,624 160,619.4 C156,610 154,604 153.2,599.2 C151.5,590 150.8,582 150.5,573.2 C149.8,560 149.2,548 148.7,538.6 Z" fill="url(#grnC)" stroke="#dff0e2" stroke-width="0.7"/>
<path d="M377.3,548.6 C374,560 373,566 372.6,573.3 C372,582 372,590 372.6,595.9 C373,605 375,612 377.3,617.2 C380,624 383,628 385.3,631.8 L384,643.8 L403.3,647.8 L405.9,630.5 L398.6,633.1 C396,628 393,624 390.6,619.8 C387.5,613 385.5,606 384,599.9 C382.5,592 381.5,585 381,577.3 C380.2,568 379.4,558 378.6,549.3 Z" fill="#666" opacity="0.45" transform="translate(2,1.5)" filter="url(#blur2)"/>
<path d="M377.3,548.6 C374,560 373,566 372.6,573.3 C372,582 372,590 372.6,595.9 C373,605 375,612 377.3,617.2 C380,624 383,628 385.3,631.8 L384,643.8 L403.3,647.8 L405.9,630.5 L398.6,633.1 C396,628 393,624 390.6,619.8 C387.5,613 385.5,606 384,599.9 C382.5,592 381.5,585 381,577.3 C380.2,568 379.4,558 378.6,549.3 Z" fill="url(#grnC)" stroke="#dff0e2" stroke-width="0.7"/>
<g clip-path="url(#clipL)">
<rect x="96.3" y="659.6999999999999" width="198.7" height="53.2" fill="#eab8c8"/>
<rect x="96.3" y="659.70" width="198.7" height="3.10" fill="#c9bfc5"/>
<rect x="96.3" y="662.25" width="198.7" height="0.5" fill="#c8b4bc" fill-opacity="0.6"/>
<rect x="96.3" y="662.75" width="198.7" height="3.10" fill="#ead2dc"/>
<rect x="96.3" y="665.30" width="198.7" height="0.5" fill="#c8b4bc" fill-opacity="0.6"/>
<rect x="96.3" y="665.80" width="198.7" height="3.10" fill="#f6eef2"/>
<rect x="96.3" y="668.35" width="198.7" height="0.5" fill="#c8b4bc" fill-opacity="0.6"/>
<rect x="96.3" y="668.85" width="198.7" height="3.10" fill="#f0cdd9"/>
<rect x="96.3" y="671.40" width="198.7" height="0.5" fill="#c8b4bc" fill-opacity="0.6"/>
<rect x="96.3" y="671.90" width="198.7" height="3.10" fill="#fbf4f8"/>
<rect x="96.3" y="674.45" width="198.7" height="0.5" fill="#c8b4bc" fill-opacity="0.6"/>
<rect x="96.3" y="674.95" width="198.7" height="3.10" fill="#f0cdd9"/>
<rect x="96.3" y="677.50" width="198.7" height="0.5" fill="#c8b4bc" fill-opacity="0.6"/>
<rect x="96.3" y="678.00" width="198.7" height="3.10" fill="#f5d9e3"/>
<rect x="96.3" y="680.55" width="198.7" height="0.5" fill="#c8b4bc" fill-opacity="0.6"/>
<rect x="96.3" y="681.05" width="198.7" height="3.10" fill="#e8aabd"/>
<rect x="96.3" y="683.60" width="198.7" height="0.5" fill="#c8b4bc" fill-opacity="0.6"/>
<rect x="96.3" y="684.10" width="198.7" height="3.10" fill="#f5d9e3"/>
<rect x="96.3" y="686.65" width="198.7" height="0.5" fill="#c8b4bc" fill-opacity="0.6"/>
<rect x="96.3" y="687.15" width="198.7" height="3.10" fill="#e49aaa"/>
<rect x="96.3" y="689.70" width="198.7" height="0.5" fill="#c8b4bc" fill-opacity="0.6"/>
<rect x="96.3" y="690.20" width="198.7" height="3.10" fill="#eec4d0"/>
<rect x="96.3" y="692.75" width="198.7" height="0.5" fill="#c8b4bc" fill-opacity="0.6"/>
<rect x="96.3" y="693.25" width="198.7" height="3.10" fill="#dc8e9a"/>
<rect x="96.3" y="695.80" width="198.7" height="0.5" fill="#c8b4bc" fill-opacity="0.6"/>
<rect x="96.3" y="696.30" width="198.7" height="3.10" fill="#e6a4b0"/>
<rect x="96.3" y="698.85" width="198.7" height="0.5" fill="#c8b4bc" fill-opacity="0.6"/>
<rect x="96.3" y="699.35" width="198.7" height="3.10" fill="#d8b0bc"/>
<rect x="96.3" y="701.90" width="198.7" height="0.5" fill="#c8b4bc" fill-opacity="0.6"/>
<rect x="96.3" y="702.40" width="198.7" height="3.10" fill="#e0a0ae"/>
<rect x="96.3" y="704.95" width="198.7" height="0.5" fill="#c8b4bc" fill-opacity="0.6"/>
<rect x="96.3" y="705.45" width="198.7" height="3.10" fill="#c8aab6"/>
<rect x="96.3" y="708.00" width="198.7" height="0.5" fill="#c8b4bc" fill-opacity="0.6"/>
<rect x="96.3" y="708.50" width="198.7" height="3.10" fill="#d6b6c0"/>
<rect x="96.3" y="711.05" width="198.7" height="0.5" fill="#c8b4bc" fill-opacity="0.6"/>
<rect x="96.3" y="711.55" width="198.7" height="3.10" fill="#c8aab6"/>
<rect x="96.3" y="714.10" width="198.7" height="0.5" fill="#c8b4bc" fill-opacity="0.6"/>
<rect x="96.3" y="659.6999999999999" width="198.7" height="53.2" fill="url(#shL)"/>
<ellipse cx="147.05" cy="686.3" rx="26.549999999999997" ry="26.6" fill="url(#bgL120)"/>
<rect x="128.0" y="662.3" width="41.6" height="1.2" fill="#8a1846"/>
<rect x="125.7" y="666.9" width="43.8" height="1.2" fill="#8a1846"/>
<rect x="125.6" y="671.5" width="46.0" height="1.2" fill="#8a1846"/>
<rect x="121.4" y="676.1" width="48.2" height="1.2" fill="#8a1846"/>
<rect x="121.7" y="680.7" width="50.4" height="1.2" fill="#8a1846"/>
<rect x="119.7" y="685.3" width="52.6" height="1.2" fill="#8a1846"/>
<rect x="121.5" y="689.9" width="51.4" height="1.2" fill="#8a1846"/>
<rect x="122.8" y="694.5" width="49.2" height="1.2" fill="#8a1846"/>
<rect x="121.6" y="699.1" width="47.0" height="1.2" fill="#8a1846"/>
<rect x="123.5" y="703.7" width="44.8" height="1.2" fill="#8a1846"/>
<rect x="124.9" y="708.3" width="42.6" height="1.2" fill="#8a1846"/>
<rect x="128.5" y="712.9" width="40.4" height="1.2" fill="#8a1846"/>
<ellipse cx="250.64999999999998" cy="686.3" rx="26.549999999999997" ry="26.6" fill="url(#bgL224)"/>
<rect x="230.9" y="662.3" width="41.6" height="1.2" fill="#8a1846"/>
<rect x="227.4" y="666.9" width="43.8" height="1.2" fill="#8a1846"/>
<rect x="228.8" y="671.5" width="46.0" height="1.2" fill="#8a1846"/>
<rect x="225.1" y="676.1" width="48.2" height="1.2" fill="#8a1846"/>
<rect x="225.9" y="680.7" width="50.4" height="1.2" fill="#8a1846"/>
<rect x="222.8" y="685.3" width="52.6" height="1.2" fill="#8a1846"/>
<rect x="223.0" y="689.9" width="51.4" height="1.2" fill="#8a1846"/>
<rect x="227.5" y="694.5" width="49.2" height="1.2" fill="#8a1846"/>
<rect x="226.0" y="699.1" width="47.0" height="1.2" fill="#8a1846"/>
<rect x="227.1" y="703.7" width="44.8" height="1.2" fill="#8a1846"/>
<rect x="231.3" y="708.3" width="42.6" height="1.2" fill="#8a1846"/>
<rect x="232.0" y="712.9" width="40.4" height="1.2" fill="#8a1846"/>
<path d="M145,659.6999999999999 Q162.4,686.3 141,712.9" stroke="#c040a4" stroke-width="1.9" fill="none" stroke-opacity="0.8"/>
<path d="M252.6,659.6999999999999 Q268.6,686.3 250.7,712.9" stroke="#c040a4" stroke-width="1.9" fill="none" stroke-opacity="0.8"/>
</g>
<path d="M96.3,659.6999999999999 L281,659.6999999999999 A14,26.6 0 0 1 281,712.9 L96.3,712.9 Z" fill="none" stroke="#8a8a8a" stroke-width="0.5" stroke-opacity="0.6"/>
<ellipse cx="96.3" cy="686.3" rx="18.5" ry="26.6" fill="url(#purpC)" stroke="#8a3a80" stroke-width="0.6"/>
<g fill="#fff" fill-opacity="0.9"><circle cx="91.5" cy="708.0" r="1.05"/><circle cx="92.5" cy="670.7" r="1.05"/><circle cx="108.1" cy="700.1" r="1.05"/><circle cx="87.2" cy="677.7" r="1.05"/><circle cx="88.0" cy="686.5" r="1.05"/><circle cx="89.6" cy="696.3" r="1.05"/><circle cx="80.1" cy="683.0" r="1.05"/><circle cx="108.4" cy="679.5" r="1.05"/><circle cx="82.0" cy="689.1" r="1.05"/><circle cx="87.1" cy="702.3" r="1.05"/><circle cx="101.8" cy="694.0" r="1.05"/><circle cx="102.8" cy="664.6" r="1.05"/><circle cx="99.4" cy="683.3" r="1.05"/><circle cx="101.8" cy="703.9" r="1.05"/><circle cx="102.8" cy="675.2" r="1.05"/><circle cx="83.2" cy="672.3" r="1.05"/><circle cx="111.5" cy="690.1" r="1.05"/><circle cx="88.3" cy="665.5" r="1.05"/><circle cx="104.9" cy="686.4" r="1.05"/><circle cx="95.2" cy="689.1" r="1.05"/><circle cx="94.5" cy="702.4" r="1.05"/><circle cx="93.5" cy="680.4" r="1.05"/><circle cx="107.3" cy="669.1" r="1.05"/><circle cx="95.8" cy="665.1" r="1.05"/><circle cx="82.0" cy="697.7" r="1.05"/><circle cx="99.3" cy="710.0" r="1.05"/><circle cx="113.1" cy="684.2" r="1.05"/><circle cx="95.7" cy="696.1" r="1.05"/></g>
<path d="M369.4,654.7 A20.970000000000002,31.299999999999997 0 0 0 369.4,717.3" transform="translate(-11.829999999999952,0)" fill="#fdfaf4" stroke="#bbb" stroke-width="0.5" stroke-dasharray="1 1"/>
<path d="M526.2,654.7 A27,31.299999999999997 0 0 1 526.2,717.3" fill="#fdfaf4" stroke="#bbb" stroke-width="0.5" stroke-dasharray="1 1"/>
<g clip-path="url(#clipR)">
<rect x="369.4" y="653.7" width="174.80000000000007" height="64.6" fill="#eab8c8"/>
<rect x="369.4" y="653.70" width="174.80000000000007" height="3.10" fill="#c9bfc5"/>
<rect x="369.4" y="656.25" width="174.80000000000007" height="0.5" fill="#c8b4bc" fill-opacity="0.6"/>
<rect x="369.4" y="656.75" width="174.80000000000007" height="3.10" fill="#ded4da"/>
<rect x="369.4" y="659.30" width="174.80000000000007" height="0.5" fill="#c8b4bc" fill-opacity="0.6"/>
<rect x="369.4" y="659.80" width="174.80000000000007" height="3.10" fill="#f6eef2"/>
<rect x="369.4" y="662.35" width="174.80000000000007" height="0.5" fill="#c8b4bc" fill-opacity="0.6"/>
<rect x="369.4" y="662.85" width="174.80000000000007" height="3.10" fill="#ead2dc"/>
<rect x="369.4" y="665.40" width="174.80000000000007" height="0.5" fill="#c8b4bc" fill-opacity="0.6"/>
<rect x="369.4" y="665.90" width="174.80000000000007" height="3.10" fill="#fbf4f8"/>
<rect x="369.4" y="668.45" width="174.80000000000007" height="0.5" fill="#c8b4bc" fill-opacity="0.6"/>
<rect x="369.4" y="668.95" width="174.80000000000007" height="3.10" fill="#f0cdd9"/>
<rect x="369.4" y="671.50" width="174.80000000000007" height="0.5" fill="#c8b4bc" fill-opacity="0.6"/>
<rect x="369.4" y="672.00" width="174.80000000000007" height="3.10" fill="#fbf4f8"/>
<rect x="369.4" y="674.55" width="174.80000000000007" height="0.5" fill="#c8b4bc" fill-opacity="0.6"/>
<rect x="369.4" y="675.05" width="174.80000000000007" height="3.10" fill="#e8aabd"/>
<rect x="369.4" y="677.60" width="174.80000000000007" height="0.5" fill="#c8b4bc" fill-opacity="0.6"/>
<rect x="369.4" y="678.10" width="174.80000000000007" height="3.10" fill="#f5d9e3"/>
<rect x="369.4" y="680.65" width="174.80000000000007" height="0.5" fill="#c8b4bc" fill-opacity="0.6"/>
<rect x="369.4" y="681.15" width="174.80000000000007" height="3.10" fill="#e8aabd"/>
<rect x="369.4" y="683.70" width="174.80000000000007" height="0.5" fill="#c8b4bc" fill-opacity="0.6"/>
<rect x="369.4" y="684.20" width="174.80000000000007" height="3.10" fill="#f5d9e3"/>
<rect x="369.4" y="686.75" width="174.80000000000007" height="0.5" fill="#c8b4bc" fill-opacity="0.6"/>
<rect x="369.4" y="687.25" width="174.80000000000007" height="3.10" fill="#e49aaa"/>
<rect x="369.4" y="689.80" width="174.80000000000007" height="0.5" fill="#c8b4bc" fill-opacity="0.6"/>
<rect x="369.4" y="690.30" width="174.80000000000007" height="3.10" fill="#eec4d0"/>
<rect x="369.4" y="692.85" width="174.80000000000007" height="0.5" fill="#c8b4bc" fill-opacity="0.6"/>
<rect x="369.4" y="693.35" width="174.80000000000007" height="3.10" fill="#dc8e9a"/>
<rect x="369.4" y="695.90" width="174.80000000000007" height="0.5" fill="#c8b4bc" fill-opacity="0.6"/>
<rect x="369.4" y="696.40" width="174.80000000000007" height="3.10" fill="#e6a4b0"/>
<rect x="369.4" y="698.95" width="174.80000000000007" height="0.5" fill="#c8b4bc" fill-opacity="0.6"/>
<rect x="369.4" y="699.45" width="174.80000000000007" height="3.10" fill="#dc8e9a"/>
<rect x="369.4" y="702.00" width="174.80000000000007" height="0.5" fill="#c8b4bc" fill-opacity="0.6"/>
<rect x="369.4" y="702.50" width="174.80000000000007" height="3.10" fill="#e0a0ae"/>
<rect x="369.4" y="705.05" width="174.80000000000007" height="0.5" fill="#c8b4bc" fill-opacity="0.6"/>
<rect x="369.4" y="705.55" width="174.80000000000007" height="3.10" fill="#d8b0bc"/>
<rect x="369.4" y="708.10" width="174.80000000000007" height="0.5" fill="#c8b4bc" fill-opacity="0.6"/>
<rect x="369.4" y="708.60" width="174.80000000000007" height="3.10" fill="#e0a0ae"/>
<rect x="369.4" y="711.15" width="174.80000000000007" height="0.5" fill="#c8b4bc" fill-opacity="0.6"/>
<rect x="369.4" y="711.65" width="174.80000000000007" height="3.10" fill="#c8aab6"/>
<rect x="369.4" y="714.20" width="174.80000000000007" height="0.5" fill="#c8b4bc" fill-opacity="0.6"/>
<rect x="369.4" y="714.70" width="174.80000000000007" height="3.10" fill="#d6b6c0"/>
<rect x="369.4" y="717.25" width="174.80000000000007" height="0.5" fill="#c8b4bc" fill-opacity="0.6"/>
<rect x="369.4" y="717.75" width="174.80000000000007" height="3.10" fill="#c4b8be"/>
<rect x="369.4" y="720.30" width="174.80000000000007" height="0.5" fill="#c8b4bc" fill-opacity="0.6"/>
<rect x="369.4" y="653.7" width="174.80000000000007" height="64.6" fill="url(#shR)"/>
<ellipse cx="415.35" cy="686.0" rx="24.650000000000006" ry="32.3" fill="url(#bgR390)"/>
<rect x="395.3" y="656.3" width="38.4" height="1.2" fill="#8a1846"/>
<rect x="397.1" y="660.9" width="40.1" height="1.2" fill="#8a1846"/>
<rect x="394.6" y="665.5" width="41.8" height="1.2" fill="#8a1846"/>
<rect x="394.3" y="670.1" width="43.5" height="1.2" fill="#8a1846"/>
<rect x="391.6" y="674.7" width="45.2" height="1.2" fill="#8a1846"/>
<rect x="393.7" y="679.3" width="46.8" height="1.2" fill="#8a1846"/>
<rect x="391.8" y="683.9" width="48.5" height="1.2" fill="#8a1846"/>
<rect x="393.0" y="688.5" width="48.4" height="1.2" fill="#8a1846"/>
<rect x="393.6" y="693.1" width="46.7" height="1.2" fill="#8a1846"/>
<rect x="392.0" y="697.7" width="45.0" height="1.2" fill="#8a1846"/>
<rect x="393.1" y="702.3" width="43.3" height="1.2" fill="#8a1846"/>
<rect x="393.2" y="706.9" width="41.6" height="1.2" fill="#8a1846"/>
<rect x="394.0" y="711.5" width="40.0" height="1.2" fill="#8a1846"/>
<rect x="394.5" y="716.1" width="38.3" height="1.2" fill="#8a1846"/>
<rect x="396.3" y="720.7" width="36.6" height="1.2" fill="#8a1846"/>
<ellipse cx="507.75" cy="686.0" rx="26.75" ry="32.3" fill="url(#bgR481)"/>
<rect x="487.3" y="656.3" width="41.7" height="1.2" fill="#8a1846"/>
<rect x="484.0" y="660.9" width="43.5" height="1.2" fill="#8a1846"/>
<rect x="485.8" y="665.5" width="45.4" height="1.2" fill="#8a1846"/>
<rect x="483.5" y="670.1" width="47.2" height="1.2" fill="#8a1846"/>
<rect x="482.5" y="674.7" width="49.0" height="1.2" fill="#8a1846"/>
<rect x="483.6" y="679.3" width="50.8" height="1.2" fill="#8a1846"/>
<rect x="481.3" y="683.9" width="52.7" height="1.2" fill="#8a1846"/>
<rect x="480.8" y="688.5" width="52.5" height="1.2" fill="#8a1846"/>
<rect x="482.3" y="693.1" width="50.7" height="1.2" fill="#8a1846"/>
<rect x="484.1" y="697.7" width="48.8" height="1.2" fill="#8a1846"/>
<rect x="482.5" y="702.3" width="47.0" height="1.2" fill="#8a1846"/>
<rect x="487.1" y="706.9" width="45.2" height="1.2" fill="#8a1846"/>
<rect x="484.2" y="711.5" width="43.4" height="1.2" fill="#8a1846"/>
<rect x="488.0" y="716.1" width="41.5" height="1.2" fill="#8a1846"/>
<rect x="489.3" y="720.7" width="39.7" height="1.2" fill="#8a1846"/>
<path d="M405.8,653.7 Q431.2,686.0 407.7,718.3" stroke="#c040a4" stroke-width="1.9" fill="none" stroke-opacity="0.8"/>
<path d="M493.4,653.7 Q530.4,686.0 493.4,718.3" stroke="#c040a4" stroke-width="1.9" fill="none" stroke-opacity="0.8"/>
</g>
<path d="M369.4,653.7 L526.2,653.7 A18,32.3 0 0 1 526.2,718.3 L369.4,718.3 Z" fill="none" stroke="#8a8a8a" stroke-width="0.5" stroke-opacity="0.6"/>
<ellipse cx="369.4" cy="686.0" rx="23.3" ry="32.3" fill="url(#purpC)" stroke="#8a3a80" stroke-width="0.6"/>
<g fill="#fff" fill-opacity="0.9"><circle cx="366.2" cy="687.5" r="1.05"/><circle cx="372.2" cy="706.5" r="1.05"/><circle cx="362.3" cy="664.2" r="1.05"/><circle cx="366.2" cy="700.2" r="1.05"/><circle cx="376.2" cy="688.7" r="1.05"/><circle cx="364.8" cy="714.0" r="1.05"/><circle cx="368.4" cy="666.7" r="1.05"/><circle cx="381.0" cy="670.1" r="1.05"/><circle cx="362.5" cy="694.3" r="1.05"/><circle cx="372.4" cy="657.6" r="1.05"/><circle cx="373.2" cy="677.2" r="1.05"/><circle cx="389.1" cy="695.8" r="1.05"/><circle cx="357.3" cy="671.6" r="1.05"/><circle cx="379.4" cy="679.4" r="1.05"/><circle cx="384.0" cy="703.7" r="1.05"/><circle cx="363.2" cy="678.9" r="1.05"/><circle cx="356.3" cy="699.0" r="1.05"/><circle cx="386.5" cy="688.5" r="1.05"/><circle cx="380.6" cy="694.8" r="1.05"/><circle cx="374.2" cy="713.7" r="1.05"/><circle cx="387.4" cy="675.4" r="1.05"/><circle cx="349.8" cy="678.1" r="1.05"/><circle cx="355.9" cy="707.3" r="1.05"/><circle cx="381.8" cy="662.2" r="1.05"/><circle cx="351.8" cy="694.3" r="1.05"/><circle cx="373.8" cy="698.1" r="1.05"/><circle cx="356.7" cy="677.8" r="1.05"/><circle cx="353.1" cy="683.9" r="1.05"/><circle cx="359.7" cy="688.0" r="1.05"/><circle cx="356.1" cy="662.9" r="1.05"/><circle cx="366.1" cy="658.3" r="1.05"/><circle cx="365.1" cy="672.9" r="1.05"/><circle cx="375.3" cy="666.0" r="1.05"/><circle cx="351.2" cy="671.1" r="1.05"/><circle cx="390.7" cy="682.2" r="1.05"/><circle cx="360.9" cy="703.5" r="1.05"/><circle cx="380.2" cy="708.7" r="1.05"/><circle cx="370.4" cy="692.3" r="1.05"/><circle cx="372.5" cy="683.4" r="1.05"/><circle cx="377.5" cy="703.1" r="1.05"/><circle cx="365.7" cy="707.6" r="1.05"/></g>
<g font-family="Liberation Sans, sans-serif">
<text x="182.6" y="524.2" font-size="7.66" font-weight="normal" fill="#151515" letter-spacing="0">En el <tspan font-weight="bold">múscul relaxat</tspan></text>
<text x="182.6" y="532.7" font-size="7.66" font-weight="normal" fill="#151515" letter-spacing="0">els miofilaments d’actina</text>
<text x="182.6" y="541.2" font-size="7.66" font-weight="normal" fill="#151515" letter-spacing="0">i de miosima es</text>
<text x="182.6" y="549.6" font-size="7.66" font-weight="normal" fill="#151515" letter-spacing="0">superponen molt poc</text>
<text x="403.8" y="508.0" font-size="7.66" font-weight="normal" fill="#151515" letter-spacing="0">En la <tspan font-weight="bold">contracció muscular</tspan> els</text>
<text x="403.8" y="516.5" font-size="7.66" font-weight="normal" fill="#151515" letter-spacing="0">miofilaments de miosina es desplacen</text>
<text x="403.8" y="525.0" font-size="7.66" font-weight="normal" fill="#151515" letter-spacing="0">sobre els d’actina, superposant-se uns sobre</text>
<text x="403.8" y="533.5" font-size="7.66" font-weight="normal" fill="#151515" letter-spacing="0">els altres. Això provoca que el múscul</text>
<text x="403.8" y="542.0" font-size="7.66" font-weight="normal" fill="#151515" letter-spacing="0">s’escursi i es generi el moviment</text>
</g>
</svg>
</body></html>
